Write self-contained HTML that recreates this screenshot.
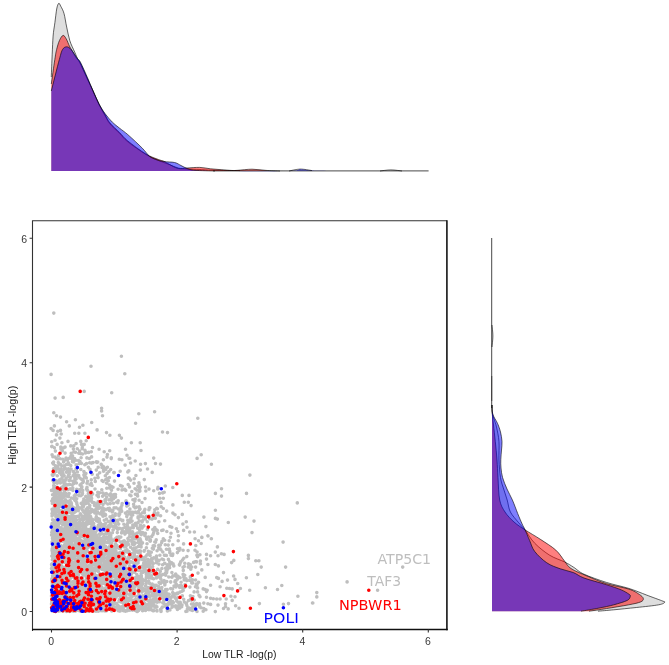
<!DOCTYPE html>
<html><head><meta charset="utf-8"><title>TLR scatter</title>
<style>html,body{margin:0;padding:0;background:#fff}svg{display:block}</style>
</head><body>
<svg width="669" height="665" viewBox="0 0 669 665">
<rect width="669" height="665" fill="#fff"/>
<path d="M51.3 171.0 L51.3 77.0C51.4 73.2 51.9 61.0 52.2 54.2C52.5 47.4 52.7 41.4 53.1 36.1C53.5 30.8 54.3 27.1 54.9 22.6C55.5 18.1 56.1 12.2 56.7 9.0C57.3 5.8 58.0 3.9 58.7 3.4C59.4 2.9 59.9 4.6 60.8 6.3C61.7 8.0 63.0 10.0 64.0 13.5C65.0 17.0 65.7 22.6 66.7 27.1C67.7 31.6 68.5 36.4 69.8 40.6C71.1 44.8 73.4 49.1 74.8 52.3C76.2 55.5 77.1 57.9 77.9 59.6C78.8 61.4 78.4 59.6 79.9 62.8C81.4 66.0 84.9 73.7 87.1 78.5C89.3 83.3 91.1 87.1 93.1 91.5C95.1 95.9 97.2 100.9 99.2 105.0C101.2 109.1 103.4 112.8 105.2 116.0C107.0 119.2 107.6 121.1 110.0 124.0C112.4 126.9 116.6 130.5 119.6 133.5C122.6 136.5 123.5 138.4 127.9 141.9C132.3 145.4 140.8 151.4 145.9 154.5C151.0 157.6 154.5 158.8 158.4 160.5C162.3 162.2 165.9 163.2 169.2 164.5C172.5 165.8 175.2 167.2 178.2 168.0C181.2 168.8 183.4 168.8 187.0 169.0C190.6 169.2 195.7 169.3 200.0 169.5C204.3 169.7 206.3 170.0 213.0 170.2C219.7 170.4 212.2 170.5 240.0 170.6C267.8 170.7 354.8 171.1 380.0 171.0C405.2 170.9 387.3 169.9 391.0 169.9C394.7 169.9 395.8 170.8 402.0 171.0C408.2 171.2 423.7 171.0 428.0 171.0L428 171.0Z" fill="#bebebe" fill-opacity="0.5"/>
<path d="M51.3 77.0C51.4 73.2 51.9 61.0 52.2 54.2C52.5 47.4 52.7 41.4 53.1 36.1C53.5 30.8 54.3 27.1 54.9 22.6C55.5 18.1 56.1 12.2 56.7 9.0C57.3 5.8 58.0 3.9 58.7 3.4C59.4 2.9 59.9 4.6 60.8 6.3C61.7 8.0 63.0 10.0 64.0 13.5C65.0 17.0 65.7 22.6 66.7 27.1C67.7 31.6 68.5 36.4 69.8 40.6C71.1 44.8 73.4 49.1 74.8 52.3C76.2 55.5 77.1 57.9 77.9 59.6C78.8 61.4 78.4 59.6 79.9 62.8C81.4 66.0 84.9 73.7 87.1 78.5C89.3 83.3 91.1 87.1 93.1 91.5C95.1 95.9 97.2 100.9 99.2 105.0C101.2 109.1 103.4 112.8 105.2 116.0C107.0 119.2 107.6 121.1 110.0 124.0C112.4 126.9 116.6 130.5 119.6 133.5C122.6 136.5 123.5 138.4 127.9 141.9C132.3 145.4 140.8 151.4 145.9 154.5C151.0 157.6 154.5 158.8 158.4 160.5C162.3 162.2 165.9 163.2 169.2 164.5C172.5 165.8 175.2 167.2 178.2 168.0C181.2 168.8 183.4 168.8 187.0 169.0C190.6 169.2 195.7 169.3 200.0 169.5C204.3 169.7 206.3 170.0 213.0 170.2C219.7 170.4 235.5 170.5 240.0 170.6M380.0 171.0C381.8 170.8 387.3 169.9 391.0 169.9C394.7 169.9 400.2 170.8 402.0 171.0" fill="none" stroke="#000" stroke-width="0.6" stroke-linejoin="round"/>
<path d="M51.3 171.0 L51.3 84.0C51.9 79.9 53.9 65.3 54.8 59.6C55.7 53.9 55.8 52.8 56.6 49.6C57.4 46.4 58.3 43.0 59.4 40.6C60.5 38.2 61.9 35.7 63.0 35.4C64.2 35.1 65.1 37.0 66.2 38.8C67.3 40.6 68.4 43.9 69.4 46.0C70.5 48.1 71.3 49.4 72.5 51.5C73.7 53.6 75.4 56.7 76.6 58.5C77.8 60.3 78.2 59.2 79.9 62.5C81.7 65.8 84.9 73.2 87.1 78.0C89.3 82.8 91.1 86.6 93.1 91.0C95.1 95.4 97.2 100.5 99.2 104.5C101.2 108.5 103.4 111.9 105.2 115.0C107.0 118.1 107.6 120.1 110.0 123.0C112.4 125.9 116.6 129.5 119.6 132.5C122.6 135.5 123.5 137.4 127.9 141.0C132.3 144.6 140.8 150.9 145.9 154.0C151.0 157.1 155.4 158.3 158.4 159.5C161.4 160.7 162.0 160.4 163.8 161.2C165.6 162.0 166.8 163.1 169.2 164.3C171.6 165.5 175.2 167.9 178.2 168.5C181.2 169.1 183.4 168.2 187.0 168.0C190.6 167.8 195.8 167.3 199.7 167.4C203.6 167.5 206.8 168.4 210.4 168.8C214.0 169.2 217.6 169.4 221.2 169.7C224.8 170.0 229.2 170.4 232.0 170.5C234.8 170.6 234.7 170.5 238.0 170.3C241.3 170.1 247.3 169.2 252.0 169.2C256.7 169.2 261.3 170.1 266.0 170.4C270.7 170.7 253.0 170.9 280.0 171.0C307.0 171.1 403.3 171.0 428.0 171.0L428 171.0Z" fill="#ff0000" fill-opacity="0.5"/>
<path d="M51.3 84.0C51.9 79.9 53.9 65.3 54.8 59.6C55.7 53.9 55.8 52.8 56.6 49.6C57.4 46.4 58.3 43.0 59.4 40.6C60.5 38.2 61.9 35.7 63.0 35.4C64.2 35.1 65.1 37.0 66.2 38.8C67.3 40.6 68.4 43.9 69.4 46.0C70.5 48.1 71.3 49.4 72.5 51.5C73.7 53.6 75.4 56.7 76.6 58.5C77.8 60.3 78.2 59.2 79.9 62.5C81.7 65.8 84.9 73.2 87.1 78.0C89.3 82.8 91.1 86.6 93.1 91.0C95.1 95.4 97.2 100.5 99.2 104.5C101.2 108.5 103.4 111.9 105.2 115.0C107.0 118.1 107.6 120.1 110.0 123.0C112.4 125.9 116.6 129.5 119.6 132.5C122.6 135.5 123.5 137.4 127.9 141.0C132.3 144.6 140.8 150.9 145.9 154.0C151.0 157.1 155.4 158.3 158.4 159.5C161.4 160.7 162.0 160.4 163.8 161.2C165.6 162.0 166.8 163.1 169.2 164.3C171.6 165.5 175.2 167.9 178.2 168.5C181.2 169.1 183.4 168.2 187.0 168.0C190.6 167.8 195.8 167.3 199.7 167.4C203.6 167.5 206.8 168.4 210.4 168.8C214.0 169.2 217.6 169.4 221.2 169.7C224.8 170.0 229.2 170.4 232.0 170.5C234.8 170.6 234.7 170.5 238.0 170.3C241.3 170.1 247.3 169.2 252.0 169.2C256.7 169.2 261.3 170.1 266.0 170.4C270.7 170.7 277.7 170.9 280.0 171.0" fill="none" stroke="#000" stroke-width="0.6" stroke-linejoin="round"/>
<path d="M51.3 171.0 L51.3 91.0C52.6 85.8 57.4 66.5 59.3 59.6C61.2 52.7 61.3 51.7 62.5 49.6C63.7 47.5 65.2 46.8 66.7 46.8C68.2 46.8 69.5 47.7 71.2 49.6C72.9 51.5 75.5 55.9 77.1 58.0C78.6 60.1 78.8 59.0 80.5 62.3C82.2 65.6 85.4 72.9 87.5 77.7C89.6 82.5 91.1 86.5 93.1 90.9C95.0 95.3 97.2 100.4 99.2 104.2C101.2 108.0 103.0 110.8 105.2 113.8C107.4 116.8 110.0 119.8 112.4 122.2C114.8 124.6 117.0 126.1 119.6 128.2C122.2 130.3 124.1 131.4 127.9 134.7C131.7 138.0 138.7 144.6 142.3 148.2C145.9 151.8 147.2 154.4 149.5 156.3C151.8 158.2 153.6 158.6 156.0 159.5C158.4 160.4 160.7 161.1 163.8 161.6C166.9 162.1 171.7 161.8 174.6 162.5C177.5 163.2 178.9 164.5 181.0 165.5C183.1 166.5 184.8 167.7 187.1 168.5C189.4 169.3 190.3 169.9 195.0 170.3C199.7 170.7 199.3 170.9 215.0 171.0C230.7 171.1 274.8 171.3 289.0 171.0C303.2 170.7 296.2 169.2 300.0 169.1C303.8 169.0 307.0 170.3 312.0 170.6C317.0 170.9 310.7 170.9 330.0 171.0C349.3 171.1 411.7 171.0 428.0 171.0L428 171.0Z" fill="#0000ff" fill-opacity="0.5"/>
<path d="M51.3 91.0C52.6 85.8 57.4 66.5 59.3 59.6C61.2 52.7 61.3 51.7 62.5 49.6C63.7 47.5 65.2 46.8 66.7 46.8C68.2 46.8 69.5 47.7 71.2 49.6C72.9 51.5 75.5 55.9 77.1 58.0C78.6 60.1 78.8 59.0 80.5 62.3C82.2 65.6 85.4 72.9 87.5 77.7C89.6 82.5 91.1 86.5 93.1 90.9C95.0 95.3 97.2 100.4 99.2 104.2C101.2 108.0 103.0 110.8 105.2 113.8C107.4 116.8 110.0 119.8 112.4 122.2C114.8 124.6 117.0 126.1 119.6 128.2C122.2 130.3 124.1 131.4 127.9 134.7C131.7 138.0 138.7 144.6 142.3 148.2C145.9 151.8 147.2 154.4 149.5 156.3C151.8 158.2 153.6 158.6 156.0 159.5C158.4 160.4 160.7 161.1 163.8 161.6C166.9 162.1 171.7 161.8 174.6 162.5C177.5 163.2 178.9 164.5 181.0 165.5C183.1 166.5 184.8 167.7 187.1 168.5C189.4 169.3 190.3 169.9 195.0 170.3C199.7 170.7 211.7 170.9 215.0 171.0M289.0 171.0C290.8 170.7 296.2 169.2 300.0 169.1C303.8 169.0 310.0 170.3 312.0 170.6" fill="none" stroke="#000" stroke-width="0.6" stroke-linejoin="round"/>
<path d="M213 170.9H428.6" stroke="#000" stroke-opacity="0.8" stroke-width="0.9"/>
<path d="M492.0 238.0C492.0 248.3 492.0 285.5 492.0 300.0C492.0 314.5 491.9 319.0 492.0 325.0C492.1 331.0 492.9 332.3 492.9 336.0C492.9 339.7 492.1 339.7 492.0 347.0C491.9 354.3 492.0 370.3 492.0 380.0C492.0 389.7 492.0 399.5 492.0 405.0C492.0 410.5 491.9 410.7 492.2 413.0C492.5 415.3 493.3 416.7 494.0 419.0C494.7 421.3 495.7 423.2 496.5 427.0C497.3 430.8 498.6 436.0 499.0 441.5C499.4 447.0 498.8 454.0 499.0 460.0C499.2 466.0 499.7 472.6 500.5 477.6C501.3 482.6 502.9 486.3 504.0 490.0C505.1 493.7 506.1 496.3 507.2 500.0C508.3 503.7 508.5 508.3 510.4 512.0C512.3 515.7 516.0 519.4 518.4 522.4C520.8 525.4 522.3 526.5 525.0 530.0C527.7 533.5 530.7 539.1 534.8 543.3C538.9 547.5 544.8 552.2 549.8 555.3C554.8 558.4 560.7 560.0 564.7 562.0C568.7 564.0 570.5 565.3 573.7 567.3C576.9 569.3 578.5 571.7 584.0 574.2C589.5 576.7 598.9 580.0 606.4 582.4C613.9 584.8 622.1 586.3 628.8 588.4C635.5 590.5 641.2 593.0 646.7 595.1C652.2 597.2 658.7 599.5 661.7 600.7C664.7 601.9 665.2 601.6 664.7 602.3C664.2 603.0 663.4 603.9 658.7 604.8C654.0 605.7 643.8 606.7 636.3 607.5C628.8 608.3 620.2 609.2 613.8 609.8C607.4 610.4 600.6 611.0 598.0 611.2L492.0 611.2Z" fill="#bebebe" fill-opacity="0.5"/>
<path d="M492.0 325.0C492.1 326.8 492.9 332.3 492.9 336.0C492.9 339.7 492.1 345.2 492.0 347.0M492.0 405.0C492.0 406.3 491.9 410.7 492.2 413.0C492.5 415.3 493.3 416.7 494.0 419.0C494.7 421.3 495.7 423.2 496.5 427.0C497.3 430.8 498.6 436.0 499.0 441.5C499.4 447.0 498.8 454.0 499.0 460.0C499.2 466.0 499.7 472.6 500.5 477.6C501.3 482.6 502.9 486.3 504.0 490.0C505.1 493.7 506.1 496.3 507.2 500.0C508.3 503.7 508.5 508.3 510.4 512.0C512.3 515.7 516.0 519.4 518.4 522.4C520.8 525.4 522.3 526.5 525.0 530.0C527.7 533.5 530.7 539.1 534.8 543.3C538.9 547.5 544.8 552.2 549.8 555.3C554.8 558.4 560.7 560.0 564.7 562.0C568.7 564.0 570.5 565.3 573.7 567.3C576.9 569.3 578.5 571.7 584.0 574.2C589.5 576.7 598.9 580.0 606.4 582.4C613.9 584.8 622.1 586.3 628.8 588.4C635.5 590.5 641.2 593.0 646.7 595.1C652.2 597.2 658.7 599.5 661.7 600.7C664.7 601.9 665.2 601.6 664.7 602.3C664.2 603.0 663.4 603.9 658.7 604.8C654.0 605.7 643.8 606.7 636.3 607.5C628.8 608.3 620.2 609.2 613.8 609.8C607.4 610.4 600.6 611.0 598.0 611.2" fill="none" stroke="#000" stroke-width="0.6" stroke-linejoin="round"/>
<path d="M492.0 238.0C492.0 248.3 492.0 276.3 492.0 300.0C492.0 323.7 492.0 362.5 492.0 380.0C492.0 397.5 491.9 399.3 492.0 405.0C492.1 410.7 492.1 411.1 492.3 414.4C492.6 417.7 493.0 420.5 493.5 425.0C494.0 429.5 494.7 435.7 495.3 441.5C495.9 447.3 496.6 454.0 497.0 460.0C497.4 466.0 497.6 470.9 498.0 477.6C498.4 484.3 498.5 494.3 499.7 500.0C500.9 505.7 502.6 508.3 505.0 512.0C507.4 515.7 510.6 519.0 514.0 522.0C517.4 525.0 520.6 527.0 525.1 529.9C529.6 532.8 535.7 536.2 540.8 539.6C545.9 543.0 551.8 546.5 555.8 550.1C559.8 553.7 562.2 558.2 564.7 561.3C567.2 564.4 567.3 566.0 571.0 568.5C574.7 571.0 581.1 573.5 587.0 576.0C592.9 578.5 599.4 581.4 606.4 583.6C613.4 585.8 623.3 587.3 628.8 589.1C634.3 590.9 636.9 592.8 639.3 594.4C641.7 596.0 643.1 597.2 643.3 598.5C643.5 599.8 643.1 600.9 640.7 601.9C638.3 602.9 634.5 603.7 628.8 604.8C623.1 605.9 613.0 607.5 606.4 608.6C599.8 609.7 591.9 610.8 589.0 611.2L492.0 611.2Z" fill="#ff0000" fill-opacity="0.5"/>
<path d="M492.0 405.0C492.1 406.6 492.1 411.1 492.3 414.4C492.6 417.7 493.0 420.5 493.5 425.0C494.0 429.5 494.7 435.7 495.3 441.5C495.9 447.3 496.6 454.0 497.0 460.0C497.4 466.0 497.6 470.9 498.0 477.6C498.4 484.3 498.5 494.3 499.7 500.0C500.9 505.7 502.6 508.3 505.0 512.0C507.4 515.7 510.6 519.0 514.0 522.0C517.4 525.0 520.6 527.0 525.1 529.9C529.6 532.8 535.7 536.2 540.8 539.6C545.9 543.0 551.8 546.5 555.8 550.1C559.8 553.7 562.2 558.2 564.7 561.3C567.2 564.4 567.3 566.0 571.0 568.5C574.7 571.0 581.1 573.5 587.0 576.0C592.9 578.5 599.4 581.4 606.4 583.6C613.4 585.8 623.3 587.3 628.8 589.1C634.3 590.9 636.9 592.8 639.3 594.4C641.7 596.0 643.1 597.2 643.3 598.5C643.5 599.8 643.1 600.9 640.7 601.9C638.3 602.9 634.5 603.7 628.8 604.8C623.1 605.9 613.0 607.5 606.4 608.6C599.8 609.7 591.9 610.8 589.0 611.2" fill="none" stroke="#000" stroke-width="0.6" stroke-linejoin="round"/>
<path d="M492.0 238.0C492.0 248.3 492.0 276.3 492.0 300.0C492.0 323.7 492.0 362.5 492.0 380.0C492.0 397.5 492.0 399.8 492.0 405.0C492.0 410.2 491.9 409.2 492.2 411.0C492.4 412.8 492.9 414.4 493.5 416.0C494.1 417.6 495.2 419.1 496.0 420.5C496.8 421.9 497.2 422.6 498.0 424.5C498.8 426.4 499.8 429.2 500.5 432.0C501.2 434.8 501.8 438.5 502.0 441.5C502.2 444.5 501.7 447.0 501.5 450.0C501.3 453.0 500.9 456.6 500.8 459.6C500.7 462.6 500.7 465.0 501.0 468.0C501.3 471.0 501.6 474.1 502.6 477.6C503.6 481.1 505.4 485.3 507.0 489.0C508.6 492.7 510.6 495.9 512.4 500.0C514.2 504.1 516.1 509.5 517.7 513.5C519.3 517.5 520.9 521.2 522.1 523.9C523.3 526.6 523.9 527.1 525.1 529.9C526.4 532.6 528.0 536.8 529.6 540.4C531.2 544.0 531.9 547.9 534.8 551.6C537.7 555.3 542.5 559.9 546.8 562.8C551.0 565.7 555.9 567.2 560.3 568.8C564.7 570.4 569.2 571.0 573.2 572.5C577.2 574.0 578.5 576.0 584.0 578.0C589.5 580.0 600.2 582.7 606.4 584.7C612.6 586.7 617.6 588.3 621.3 589.9C625.0 591.5 627.3 593.0 628.8 594.1C630.3 595.2 630.5 595.2 630.3 596.3C630.0 597.3 630.0 599.0 627.3 600.4C624.5 601.8 618.5 603.5 613.8 604.8C609.1 606.1 604.4 607.0 598.9 608.1C593.4 609.2 584.0 610.7 581.0 611.2L492.0 611.2Z" fill="#0000ff" fill-opacity="0.5"/>
<path d="M492.0 405.0C492.0 406.0 491.9 409.2 492.2 411.0C492.4 412.8 492.9 414.4 493.5 416.0C494.1 417.6 495.2 419.1 496.0 420.5C496.8 421.9 497.2 422.6 498.0 424.5C498.8 426.4 499.8 429.2 500.5 432.0C501.2 434.8 501.8 438.5 502.0 441.5C502.2 444.5 501.7 447.0 501.5 450.0C501.3 453.0 500.9 456.6 500.8 459.6C500.7 462.6 500.7 465.0 501.0 468.0C501.3 471.0 501.6 474.1 502.6 477.6C503.6 481.1 505.4 485.3 507.0 489.0C508.6 492.7 510.6 495.9 512.4 500.0C514.2 504.1 516.1 509.5 517.7 513.5C519.3 517.5 520.9 521.2 522.1 523.9C523.3 526.6 523.9 527.1 525.1 529.9C526.4 532.6 528.0 536.8 529.6 540.4C531.2 544.0 531.9 547.9 534.8 551.6C537.7 555.3 542.5 559.9 546.8 562.8C551.0 565.7 555.9 567.2 560.3 568.8C564.7 570.4 569.2 571.0 573.2 572.5C577.2 574.0 578.5 576.0 584.0 578.0C589.5 580.0 600.2 582.7 606.4 584.7C612.6 586.7 617.6 588.3 621.3 589.9C625.0 591.5 627.3 593.0 628.8 594.1C630.3 595.2 630.5 595.2 630.3 596.3C630.0 597.3 630.0 599.0 627.3 600.4C624.5 601.8 618.5 603.5 613.8 604.8C609.1 606.1 604.4 607.0 598.9 608.1C593.4 609.2 584.0 610.7 581.0 611.2" fill="none" stroke="#000" stroke-width="0.6" stroke-linejoin="round"/>
<path d="M491.7 238V408" stroke="#000" stroke-opacity="0.8" stroke-width="0.9"/>
<path d="M491.8 376V401" stroke="#000" stroke-opacity="0.5" stroke-width="1"/>
<g fill="none" stroke-linecap="round" stroke-width="3.6">
<path stroke="#bebebe" d="M115.6 544.1h0M169.7 565.0h0M97.5 584.6h0M54.0 584.2h0M94.3 544.1h0M64.2 589.5h0M83.7 542.8h0M137.4 560.7h0M72.1 561.7h0M115.6 525.6h0M79.6 535.3h0M59.6 560.3h0M151.4 575.9h0M58.0 573.8h0M77.7 601.2h0M163.3 498.2h0M99.8 552.2h0M89.8 555.5h0M125.4 513.1h0M124.1 572.5h0M142.6 559.7h0M66.2 594.1h0M105.1 607.7h0M94.8 590.9h0M62.3 561.3h0M178.5 535.8h0M117.0 590.4h0M64.7 607.0h0M58.0 609.2h0M55.8 562.0h0M105.5 515.2h0M59.8 519.1h0M56.0 471.4h0M166.5 594.3h0M60.0 517.0h0M118.5 562.6h0M93.6 604.6h0M121.4 571.4h0M105.5 514.6h0M73.1 608.6h0M130.9 556.2h0M97.4 559.0h0M175.1 598.1h0M79.9 570.6h0M68.9 578.4h0M144.3 479.6h0M72.2 484.9h0M65.2 519.8h0M78.3 538.3h0M132.2 512.8h0M92.2 521.7h0M97.9 575.9h0M58.5 578.4h0M100.0 593.3h0M75.7 531.4h0M60.2 516.3h0M65.7 484.3h0M102.0 480.6h0M161.3 595.5h0M71.0 588.3h0M111.7 606.6h0M140.1 509.0h0M169.3 549.0h0M54.8 564.7h0M170.7 588.6h0M67.3 543.9h0M98.9 538.5h0M93.7 609.8h0M58.8 611.1h0M90.7 587.9h0M126.8 502.9h0M147.0 543.8h0M156.9 606.9h0M67.1 547.9h0M93.8 556.5h0M64.8 533.9h0M94.9 599.1h0M106.4 575.5h0M81.8 572.7h0M112.0 552.8h0M57.0 509.0h0M138.3 592.2h0M55.5 570.2h0M123.4 552.4h0M68.0 532.1h0M79.7 589.5h0M52.2 523.2h0M103.9 558.8h0M108.8 551.9h0M76.6 568.6h0M59.0 553.7h0M118.3 571.4h0M113.0 487.3h0M65.7 599.5h0M130.3 577.6h0M67.1 607.0h0M151.8 558.8h0M60.4 571.9h0M109.2 568.3h0M167.2 569.7h0M104.8 606.0h0M61.0 600.7h0M66.5 528.4h0M88.1 530.0h0M117.9 554.5h0M86.2 577.0h0M86.8 599.7h0M112.3 567.4h0M62.7 559.6h0M97.7 462.1h0M79.3 524.9h0M127.6 603.8h0M122.2 580.2h0M117.8 595.2h0M82.7 490.4h0M58.6 590.8h0M182.1 591.2h0M139.3 545.5h0M108.3 581.1h0M110.8 564.8h0M131.4 582.2h0M120.5 548.7h0M74.2 607.5h0M94.7 583.6h0M94.3 544.8h0M60.5 498.0h0M123.2 579.7h0M94.7 536.6h0M66.5 569.1h0M58.1 539.4h0M103.8 602.9h0M119.4 556.5h0M98.3 525.7h0M56.9 522.9h0M72.9 490.5h0M54.7 596.5h0M53.2 586.2h0M146.0 609.6h0M158.8 548.1h0M63.1 530.4h0M78.2 564.7h0M63.7 546.5h0M55.4 465.8h0M114.7 609.9h0M113.4 495.7h0M126.3 588.8h0M78.4 523.9h0M81.8 560.3h0M54.3 500.0h0M141.7 600.5h0M113.3 598.9h0M150.4 552.2h0M104.1 546.0h0M80.7 596.4h0M57.7 542.8h0M54.7 566.2h0M80.9 519.3h0M134.8 586.0h0M140.1 596.9h0M161.7 542.6h0M157.6 569.3h0M76.9 555.4h0M114.3 494.6h0M83.0 591.1h0M161.1 588.0h0M114.9 564.7h0M64.1 552.6h0M63.7 480.5h0M93.6 564.0h0M62.9 541.0h0M133.6 504.2h0M78.7 475.5h0M115.0 593.3h0M70.1 506.4h0M78.2 550.9h0M104.2 451.7h0M107.4 578.4h0M69.4 523.2h0M64.2 573.6h0M72.6 589.0h0M53.4 550.5h0M62.2 587.3h0M62.2 518.6h0M88.1 503.3h0M125.7 533.0h0M67.6 543.7h0M111.5 608.2h0M103.2 577.3h0M114.1 568.0h0M128.2 600.8h0M169.9 609.9h0M121.2 558.0h0M197.0 604.8h0M94.4 596.7h0M69.4 545.5h0M132.5 537.7h0M125.2 577.7h0M55.2 554.6h0M67.3 606.2h0M78.6 568.7h0M76.7 502.5h0M110.3 564.4h0M113.0 530.0h0M91.8 521.3h0M137.5 609.1h0M101.6 533.6h0M123.6 574.2h0M84.7 545.0h0M197.0 611.5h0M71.3 607.0h0M73.6 483.7h0M166.0 591.4h0M123.6 590.4h0M66.3 578.9h0M118.9 569.7h0M127.3 532.1h0M66.3 510.3h0M129.7 512.3h0M65.7 604.1h0M137.2 557.6h0M91.7 576.0h0M128.9 584.7h0M56.1 467.5h0M73.6 550.0h0M108.6 539.4h0M56.7 571.6h0M86.6 572.8h0M52.1 516.0h0M100.6 587.8h0M122.2 503.6h0M93.7 590.6h0M105.8 594.5h0M106.6 610.8h0M77.2 525.6h0M92.8 576.6h0M150.1 555.4h0M104.1 495.0h0M59.7 603.7h0M54.2 537.6h0M128.0 586.8h0M55.2 607.0h0M56.5 538.8h0M93.4 603.2h0M148.6 537.0h0M114.6 573.9h0M108.1 528.9h0M75.8 521.5h0M66.2 577.3h0M177.4 593.1h0M101.3 544.3h0M58.3 462.5h0M65.0 519.5h0M53.2 532.4h0M121.0 575.7h0M94.9 584.7h0M67.7 603.5h0M124.5 570.9h0M124.6 594.3h0M52.9 605.4h0M114.5 561.6h0M89.0 556.8h0M156.2 585.3h0M111.5 569.5h0M110.9 602.4h0M69.3 574.0h0M145.2 557.0h0M133.6 512.5h0M188.1 550.6h0M62.1 558.1h0M52.7 498.7h0M128.4 503.6h0M151.8 536.4h0M103.9 568.8h0M114.7 540.8h0M107.0 600.6h0M158.7 547.8h0M65.2 586.0h0M55.5 536.8h0M98.5 576.9h0M100.9 559.6h0M187.0 611.3h0M61.0 588.1h0M178.4 517.6h0M85.2 476.3h0M67.6 558.5h0M170.9 603.5h0M101.4 593.1h0M90.6 516.5h0M120.5 607.0h0M55.6 579.0h0M66.3 533.0h0M76.1 555.8h0M89.8 570.5h0M76.3 578.5h0M75.9 540.0h0M95.8 578.0h0M113.2 591.2h0M56.3 564.9h0M65.6 609.5h0M77.4 567.7h0M73.4 573.2h0M131.4 573.7h0M83.5 599.6h0M119.4 601.2h0M153.7 490.8h0M83.3 501.3h0M185.9 611.4h0M114.9 569.1h0M110.3 557.2h0M72.5 459.7h0M56.1 577.8h0M87.7 583.2h0M87.9 593.2h0M65.0 551.0h0M62.1 487.0h0M106.0 594.6h0M110.2 561.2h0M113.1 575.3h0M75.1 531.4h0M92.0 525.1h0M65.6 488.1h0M92.4 572.0h0M69.1 573.7h0M66.9 604.9h0M124.3 576.6h0M71.9 545.3h0M157.0 610.9h0M72.8 529.3h0M64.8 529.1h0M142.0 592.1h0M121.6 532.9h0M101.9 595.8h0M87.8 585.5h0M55.9 528.3h0M115.7 544.0h0M83.8 584.8h0M65.6 544.9h0M60.7 510.8h0M56.8 593.1h0M80.6 559.9h0M66.4 571.4h0M114.6 558.0h0M55.7 544.1h0M55.6 578.0h0M84.2 565.9h0M73.0 525.8h0M88.8 533.2h0M77.3 448.7h0M97.9 568.8h0M88.5 580.3h0M85.8 512.2h0M59.3 534.8h0M109.0 547.2h0M57.9 531.9h0M161.1 611.1h0M65.1 579.5h0M127.4 601.8h0M99.0 595.3h0M90.2 586.1h0M97.5 565.8h0M55.9 593.7h0M64.1 534.2h0M96.8 607.4h0M104.2 563.6h0M81.8 553.5h0M98.4 571.5h0M74.1 574.4h0M62.0 586.8h0M149.0 605.1h0M65.8 587.1h0M91.0 540.3h0M60.9 493.4h0M58.5 532.6h0M57.4 523.7h0M122.5 595.4h0M138.1 516.9h0M108.4 548.2h0M55.0 457.0h0M92.2 474.2h0M75.3 511.8h0M77.5 596.7h0M68.9 532.7h0M109.9 545.9h0M145.4 463.6h0M70.8 608.2h0M123.6 565.9h0M63.2 586.7h0M52.3 584.1h0M96.0 611.3h0M90.4 595.6h0M154.6 545.9h0M100.3 567.9h0M56.3 587.7h0M145.8 491.0h0M136.2 525.6h0M102.4 510.0h0M99.5 524.6h0M82.7 599.4h0M137.0 601.5h0M119.6 514.2h0M132.8 592.5h0M171.0 604.1h0M59.9 597.9h0M110.0 516.7h0M117.2 606.1h0M125.6 593.3h0M63.8 585.2h0M62.5 593.4h0M72.0 516.1h0M70.1 548.7h0M65.4 493.9h0M52.9 603.9h0M54.9 529.1h0M153.3 563.5h0M131.3 572.9h0M129.3 562.9h0M53.3 541.2h0M77.5 595.6h0M70.5 594.9h0M97.3 542.3h0M60.0 540.6h0M165.3 544.8h0M132.2 586.2h0M88.4 515.5h0M142.0 607.4h0M70.4 477.5h0M136.2 551.9h0M60.4 531.8h0M109.7 595.2h0M118.7 524.1h0M52.8 539.2h0M63.0 581.0h0M150.0 596.6h0M117.0 545.5h0M51.9 580.8h0M110.3 552.8h0M111.2 510.2h0M58.9 608.3h0M87.8 560.3h0M59.3 557.7h0M95.0 576.7h0M103.0 504.6h0M122.1 591.9h0M99.7 590.1h0M97.8 558.9h0M99.4 592.8h0M103.5 471.3h0M80.9 567.9h0M92.5 556.7h0M91.2 604.5h0M81.2 592.1h0M189.9 608.4h0M137.6 522.8h0M116.0 545.8h0M87.1 606.7h0M60.6 489.0h0M60.5 577.3h0M141.2 573.6h0M96.6 579.1h0M53.9 482.6h0M79.7 538.6h0M85.9 473.5h0M66.7 563.0h0M54.1 498.4h0M105.9 605.2h0M58.4 500.0h0M52.7 601.7h0M93.9 609.6h0M104.4 582.1h0M166.8 593.6h0M79.7 589.2h0M139.9 531.5h0M72.2 604.9h0M90.7 520.3h0M141.4 544.1h0M72.1 532.6h0M128.7 586.6h0M95.5 575.4h0M59.1 576.0h0M90.4 497.7h0M72.4 523.5h0M132.1 586.9h0M57.0 498.5h0M59.7 479.9h0M161.0 594.6h0M82.5 454.0h0M94.5 587.2h0M71.1 469.1h0M104.5 563.4h0M61.2 516.2h0M55.4 491.8h0M63.6 461.9h0M170.4 537.2h0M126.8 506.1h0M104.8 547.3h0M80.8 469.5h0M114.1 555.6h0M83.4 558.6h0M78.3 567.7h0M164.7 520.8h0M137.9 486.4h0M55.3 573.0h0M102.6 496.2h0M139.5 491.2h0M102.5 560.9h0M121.8 583.0h0M85.9 551.2h0M109.5 588.7h0M108.3 574.7h0M100.1 577.6h0M65.5 502.6h0M84.8 593.6h0M146.8 539.2h0M93.6 543.9h0M121.3 559.5h0M90.5 602.9h0M134.0 535.4h0M67.8 540.1h0M69.0 573.2h0M79.4 609.9h0M80.0 584.0h0M115.3 550.2h0M93.7 602.1h0M125.4 586.6h0M160.9 591.8h0M73.8 607.6h0M76.3 596.2h0M162.0 559.0h0M74.8 585.9h0M65.3 582.5h0M66.6 574.4h0M78.7 516.6h0M123.1 607.5h0M60.5 522.0h0M63.8 539.3h0M70.2 559.1h0M110.5 582.8h0M157.1 550.7h0M64.3 530.9h0M69.1 464.5h0M127.3 573.5h0M128.6 600.7h0M89.7 569.3h0M90.6 529.2h0M117.8 583.5h0M142.5 598.3h0M124.6 546.9h0M82.4 566.5h0M61.4 596.4h0M90.3 600.0h0M86.7 530.7h0M176.3 584.2h0M58.4 573.6h0M83.5 546.4h0M71.6 505.6h0M106.8 549.5h0M54.9 574.9h0M66.8 549.0h0M93.6 569.2h0M70.1 602.3h0M151.3 552.2h0M63.1 561.1h0M62.4 521.6h0M80.9 508.0h0M54.8 610.5h0M105.4 475.8h0M169.8 551.3h0M127.0 455.3h0M54.6 601.4h0M101.5 501.6h0M118.1 607.5h0M119.5 571.5h0M69.6 609.6h0M126.6 578.4h0M70.0 589.4h0M164.9 583.9h0M97.0 539.0h0M73.0 550.0h0M131.1 514.5h0M91.6 534.8h0M84.5 476.7h0M85.5 583.7h0M121.9 602.3h0M83.1 589.1h0M108.2 604.1h0M94.5 581.9h0M79.7 542.7h0M80.9 594.0h0M60.9 516.0h0M83.2 568.0h0M85.8 565.3h0M101.8 587.2h0M115.0 553.2h0M80.8 580.4h0M179.8 548.2h0M61.8 606.8h0M142.1 521.9h0M131.5 569.6h0M54.4 594.1h0M140.5 525.3h0M105.4 567.1h0M115.2 515.4h0M61.3 593.9h0M62.3 609.2h0M109.0 576.4h0M66.6 595.9h0M76.9 531.8h0M54.9 583.4h0M90.1 523.5h0M130.6 557.0h0M61.1 593.4h0M61.5 500.7h0M98.8 590.1h0M81.7 549.2h0M156.8 610.5h0M61.4 572.0h0M157.9 513.0h0M65.7 484.0h0M52.3 515.0h0M96.5 513.4h0M96.4 461.9h0M157.1 593.6h0M115.3 588.9h0M109.7 556.5h0M135.2 566.9h0M117.3 589.2h0M138.3 546.5h0M88.0 512.9h0M86.4 574.0h0M123.3 599.0h0M75.6 583.8h0M99.9 592.3h0M106.7 605.1h0M52.1 509.4h0M105.5 590.5h0M80.4 513.9h0M67.8 507.1h0M120.5 575.5h0M106.0 571.5h0M92.4 589.4h0M65.1 447.1h0M102.3 569.5h0M57.6 561.0h0M68.6 599.9h0M58.7 511.9h0M78.3 567.3h0M76.3 603.5h0M113.0 596.0h0M70.0 551.1h0M93.7 602.2h0M141.8 591.5h0M173.3 606.3h0M99.0 534.3h0M116.9 591.1h0M91.7 528.9h0M113.4 567.3h0M93.0 546.9h0M58.6 581.3h0M104.7 582.9h0M140.8 540.9h0M118.8 585.5h0M68.7 598.2h0M166.8 581.5h0M139.2 506.9h0M113.9 573.8h0M54.2 481.2h0M73.4 558.5h0M65.8 517.9h0M55.7 508.4h0M128.8 470.9h0M114.2 596.6h0M57.0 561.5h0M63.7 529.3h0M56.4 586.6h0M126.2 591.5h0M71.2 592.2h0M109.0 499.9h0M69.8 542.7h0M114.9 545.7h0M58.8 587.4h0M105.7 587.7h0M93.0 586.5h0M138.0 560.1h0M81.4 578.4h0M90.9 579.0h0M107.9 561.8h0M87.0 568.4h0M108.7 567.2h0M163.8 601.1h0M102.7 540.0h0M137.5 536.4h0M120.1 601.7h0M81.7 595.3h0M95.7 591.8h0M80.4 580.9h0M93.0 544.6h0M117.9 528.1h0M81.3 463.4h0M115.4 595.1h0M86.5 610.8h0M84.0 567.3h0M98.8 528.5h0M55.0 535.1h0M130.4 589.0h0M66.9 584.8h0M68.4 596.9h0M88.3 532.1h0M98.6 584.4h0M108.7 541.9h0M53.4 560.3h0M109.8 558.8h0M115.5 497.1h0M107.4 454.5h0M85.4 571.1h0M100.3 594.7h0M118.4 509.0h0M66.8 459.0h0M127.0 515.6h0M125.1 550.7h0M138.6 609.4h0M85.6 526.8h0M87.3 524.3h0M85.5 517.1h0M113.9 601.7h0M134.8 558.7h0M139.0 587.4h0M66.5 515.6h0M80.3 508.0h0M60.7 521.1h0M58.5 593.4h0M141.1 546.9h0M69.7 562.5h0M73.4 590.9h0M80.1 604.0h0M138.5 589.0h0M172.0 607.2h0M73.4 564.0h0M54.9 536.1h0M65.4 587.8h0M105.8 595.5h0M79.6 544.9h0M88.3 493.6h0M80.6 592.4h0M67.6 510.1h0M76.4 578.7h0M89.1 606.6h0M75.2 598.2h0M85.6 584.9h0M57.0 583.1h0M113.2 601.4h0M60.9 449.1h0M87.5 560.7h0M97.1 601.4h0M56.1 600.3h0M63.8 494.9h0M125.2 577.3h0M69.2 558.9h0M60.7 608.6h0M121.9 505.2h0M65.2 569.0h0M113.2 580.7h0M69.7 570.5h0M52.7 559.1h0M71.3 571.1h0M88.0 557.3h0M106.7 572.8h0M95.9 568.2h0M56.7 504.2h0M87.2 490.2h0M53.2 566.9h0M64.5 562.3h0M94.6 563.1h0M99.3 540.6h0M110.8 590.2h0M127.8 471.9h0M70.2 533.5h0M123.2 577.8h0M101.1 525.7h0M67.4 525.1h0M97.1 559.5h0M186.9 605.5h0M161.2 506.7h0M70.9 532.9h0M151.4 609.8h0M115.7 577.3h0M157.4 600.2h0M122.5 558.5h0M100.4 601.5h0M65.3 537.6h0M81.3 570.1h0M53.8 491.3h0M143.7 580.4h0M72.4 570.9h0M65.6 577.6h0M119.0 608.1h0M95.5 561.7h0M82.9 594.0h0M76.1 516.6h0M72.6 553.5h0M92.2 611.0h0M109.5 485.1h0M86.5 463.6h0M64.6 524.4h0M194.1 591.9h0M57.2 597.3h0M137.6 604.6h0M152.1 561.7h0M118.6 548.3h0M119.3 594.1h0M68.4 495.6h0M62.6 506.6h0M83.1 608.5h0M57.0 544.0h0M192.7 607.4h0M88.1 588.8h0M87.0 544.7h0M77.1 476.2h0M81.9 525.5h0M156.1 529.6h0M138.5 552.7h0M130.2 572.6h0M53.6 489.6h0M69.4 608.9h0M119.9 563.5h0M52.0 513.6h0M92.1 502.3h0M149.0 516.1h0M131.6 606.2h0M104.4 530.5h0M137.6 495.9h0M131.3 594.3h0M53.4 576.7h0M104.2 578.2h0M140.1 553.1h0M54.9 509.4h0M126.7 529.5h0M55.4 523.0h0M93.2 533.9h0M132.1 571.8h0M165.7 575.3h0M137.5 533.1h0M157.8 514.9h0M156.1 596.7h0M78.2 490.5h0M90.3 539.8h0M59.8 522.9h0M70.2 578.7h0M75.3 594.4h0M133.7 609.1h0M85.8 540.6h0M96.3 576.6h0M143.9 525.9h0M78.8 544.0h0M52.7 501.6h0M57.0 524.8h0M93.5 600.3h0M179.4 564.8h0M95.3 595.6h0M69.9 608.9h0M133.3 527.8h0M67.4 599.8h0M126.7 542.4h0M88.6 557.8h0M176.4 528.7h0M89.4 607.3h0M65.8 560.4h0M101.0 560.1h0M137.4 611.4h0M79.6 555.6h0M118.3 609.8h0M85.6 585.6h0M122.9 597.7h0M83.7 593.8h0M73.6 548.4h0M55.9 586.3h0M60.3 597.8h0M136.7 512.7h0M94.0 610.8h0M191.7 567.0h0M117.8 539.1h0M77.0 553.4h0M58.0 572.2h0M58.6 602.8h0M134.0 548.1h0M154.8 593.0h0M77.2 563.7h0M127.5 582.5h0M75.4 571.6h0M195.4 609.8h0M106.2 562.8h0M134.4 553.8h0M136.8 574.5h0M53.7 544.6h0M79.2 589.2h0M62.3 532.5h0M86.4 534.1h0M127.1 582.0h0M87.8 531.7h0M86.5 565.9h0M154.8 590.6h0M74.6 608.8h0M106.4 550.1h0M126.1 579.3h0M152.3 548.3h0M114.5 558.0h0M65.2 522.4h0M115.7 579.9h0M72.7 512.9h0M116.7 594.6h0M94.7 594.0h0M97.0 495.3h0M103.9 603.5h0M73.9 584.1h0M151.1 604.7h0M73.2 537.4h0M96.7 545.6h0M124.9 557.4h0M81.4 604.7h0M61.4 534.7h0M82.2 448.8h0M77.1 530.1h0M79.3 588.2h0M139.9 576.4h0M103.6 547.2h0M93.0 510.5h0M90.2 574.4h0M126.0 546.6h0M85.7 564.6h0M111.2 458.6h0M71.5 575.7h0M60.5 547.1h0M110.5 575.6h0M76.2 578.9h0M60.6 503.1h0M77.3 609.2h0M89.1 588.8h0M162.2 581.7h0M135.7 538.8h0M161.8 587.5h0M95.8 567.3h0M155.1 588.8h0M58.2 583.6h0M87.5 490.3h0M116.7 603.5h0M102.5 564.9h0M90.1 484.8h0M102.2 606.5h0M57.5 554.9h0M55.5 582.1h0M101.6 580.1h0M90.2 584.6h0M59.7 581.9h0M127.6 587.3h0M52.2 582.7h0M53.9 487.0h0M66.6 586.5h0M68.1 586.6h0M89.5 573.7h0M94.5 505.5h0M58.7 576.7h0M59.0 593.0h0M98.7 578.6h0M60.5 571.7h0M53.6 488.8h0M108.6 604.1h0M123.7 605.4h0M163.1 582.3h0M121.9 607.0h0M53.4 580.7h0M138.1 563.0h0M152.5 563.5h0M130.1 522.2h0M145.5 487.0h0M142.5 542.9h0M150.2 541.2h0M165.4 604.6h0M63.3 581.1h0M83.1 593.5h0M112.4 518.3h0M65.7 572.6h0M61.7 465.7h0M73.7 563.8h0M53.7 485.6h0M109.4 510.6h0M76.4 596.0h0M164.9 593.4h0M150.3 602.1h0M86.0 509.2h0M99.2 504.2h0M82.8 583.8h0M88.2 611.2h0M76.4 483.0h0M103.0 516.2h0M174.9 581.9h0M135.2 543.1h0M169.2 540.7h0M77.6 582.1h0M75.7 510.2h0M116.0 567.9h0M61.2 495.9h0M68.7 558.6h0M113.0 550.8h0M101.2 601.7h0M164.8 591.2h0M61.2 600.4h0M82.3 598.9h0M84.2 557.0h0M72.2 589.3h0M153.6 518.0h0M171.9 577.2h0M65.8 606.5h0M88.0 529.5h0M154.8 509.7h0M86.9 581.6h0M98.6 561.6h0M139.3 567.6h0M113.2 529.9h0M106.7 550.9h0M92.0 567.1h0M69.5 532.8h0M75.3 537.6h0M52.7 566.6h0M118.3 555.8h0M119.1 564.9h0M78.0 561.4h0M172.6 595.8h0M96.7 556.7h0M71.2 587.5h0M116.1 527.3h0M84.4 552.6h0M143.0 602.9h0M56.1 538.3h0M121.7 511.2h0M98.1 580.8h0M143.2 610.2h0M136.2 558.2h0M77.4 524.1h0M120.1 541.7h0M157.2 602.3h0M107.0 457.1h0M116.0 551.3h0M146.1 583.7h0M126.0 574.9h0M52.0 563.9h0M72.2 602.3h0M97.6 598.7h0M85.3 590.7h0M104.0 468.4h0M59.0 570.7h0M121.9 566.1h0M105.7 469.5h0M62.9 498.1h0M79.6 557.3h0M159.9 555.3h0M68.3 546.6h0M128.4 568.6h0M62.4 568.9h0M182.9 588.4h0M116.4 573.4h0M111.8 557.7h0M64.9 579.5h0M120.4 566.7h0M94.4 548.2h0M62.3 582.1h0M75.3 593.3h0M150.4 541.0h0M74.7 477.0h0M149.3 507.9h0M145.0 498.6h0M68.5 532.4h0M90.7 601.6h0M138.1 517.9h0M70.7 505.7h0M83.8 499.1h0M96.3 577.7h0M109.3 556.3h0M52.7 610.9h0M62.0 562.4h0M52.6 519.8h0M81.8 490.2h0M89.0 572.2h0M145.1 590.7h0M89.9 578.8h0M93.1 602.2h0M171.7 562.9h0M63.7 567.7h0M71.4 554.7h0M110.6 526.2h0M66.9 541.8h0M131.0 495.8h0M119.1 591.6h0M102.2 592.5h0M65.7 597.3h0M76.3 570.3h0M164.4 555.2h0M162.4 593.6h0M53.6 597.3h0M52.8 580.6h0M53.1 588.3h0M77.5 505.9h0M153.6 578.8h0M83.1 599.3h0M98.1 477.6h0M111.3 457.8h0M139.8 582.9h0M79.7 601.9h0M120.4 485.6h0M178.4 607.7h0M108.5 525.8h0M58.1 585.1h0M85.9 607.9h0M59.4 550.7h0M111.4 486.5h0M69.3 533.0h0M64.4 560.5h0M59.6 498.4h0M68.6 591.3h0M64.4 524.9h0M68.7 523.3h0M55.0 582.2h0M89.5 536.7h0M137.6 581.3h0M107.0 594.9h0M109.4 508.4h0M60.1 570.3h0M117.5 571.8h0M54.7 574.4h0M58.1 558.2h0M55.3 550.4h0M75.7 530.1h0M176.4 575.6h0M158.4 586.3h0M134.2 478.8h0M58.5 551.6h0M71.1 507.0h0M155.3 601.7h0M89.8 576.5h0M52.4 593.3h0M61.0 537.1h0M97.3 601.3h0M92.9 579.1h0M153.2 518.1h0M128.3 607.0h0M121.9 586.0h0M68.1 469.9h0M96.1 565.4h0M65.5 535.6h0M59.5 558.9h0M52.6 494.7h0M151.9 560.8h0M118.5 591.0h0M53.4 463.9h0M179.1 585.7h0M128.8 604.3h0M56.5 606.8h0M85.8 591.1h0M119.1 568.8h0M124.2 576.3h0M143.0 557.9h0M105.2 589.4h0M59.3 566.0h0M65.0 545.6h0M147.4 566.7h0M53.8 528.7h0M149.8 577.8h0M116.5 540.7h0M92.4 519.2h0M87.9 497.1h0M140.8 578.8h0M140.7 580.2h0M123.6 606.9h0M177.5 548.7h0M55.6 526.5h0M53.0 582.6h0M135.0 557.9h0M134.4 555.3h0M81.5 489.2h0M68.5 603.0h0M105.9 552.1h0M92.5 571.0h0M107.6 478.6h0M64.6 550.0h0M64.3 553.8h0M99.8 513.7h0M95.5 545.6h0M154.7 598.6h0M103.5 569.1h0M54.4 575.9h0M135.2 461.0h0M198.6 582.3h0M107.7 554.5h0M151.0 606.8h0M63.3 536.1h0M141.9 582.7h0M117.8 502.7h0M58.5 455.5h0M55.5 606.5h0M82.3 587.6h0M66.8 534.7h0M159.0 560.4h0M53.4 539.6h0M117.7 567.9h0M86.7 583.6h0M168.4 594.2h0M54.3 492.1h0M82.8 571.4h0M105.0 606.9h0M180.2 602.3h0M74.8 511.1h0M110.5 550.3h0M88.9 518.1h0M61.6 550.4h0M85.3 513.6h0M86.9 583.4h0M71.3 546.2h0M57.2 549.9h0M71.0 604.6h0M57.0 546.5h0M106.0 606.4h0M93.0 583.5h0M103.1 525.0h0M81.1 523.8h0M85.8 551.1h0M166.8 531.5h0M66.6 546.3h0M93.1 564.6h0M124.8 542.8h0M58.2 588.1h0M156.5 562.8h0M125.0 584.1h0M127.3 543.3h0M54.5 601.3h0M60.2 610.7h0M98.3 525.4h0M68.5 527.0h0M58.4 569.3h0M73.7 597.7h0M145.3 518.9h0M88.7 536.4h0M85.9 599.4h0M169.6 567.8h0M65.8 596.9h0M118.3 610.7h0M92.6 576.3h0M135.8 596.2h0M97.1 610.7h0M183.1 550.2h0M81.4 563.9h0M136.6 605.1h0M121.2 556.0h0M91.2 576.8h0M102.4 600.7h0M95.0 489.0h0M123.2 572.3h0M60.4 534.5h0M74.4 516.6h0M115.8 583.3h0M81.4 584.0h0M63.9 528.7h0M118.2 580.2h0M58.5 543.2h0M88.3 587.2h0M121.3 579.0h0M65.5 530.2h0M70.1 571.5h0M80.0 461.5h0M87.5 551.3h0M90.9 597.4h0M55.7 508.5h0M119.1 564.4h0M56.4 587.8h0M79.7 609.1h0M86.1 529.2h0M190.2 609.7h0M199.0 595.3h0M123.6 564.9h0M114.0 591.7h0M168.4 559.4h0M84.0 588.8h0M123.5 610.7h0M69.3 564.7h0M75.6 552.6h0M95.8 513.2h0M57.8 609.0h0M99.3 522.3h0M58.7 523.0h0M111.3 499.1h0M71.5 458.5h0M91.0 564.7h0M60.5 560.3h0M73.0 607.5h0M175.7 605.8h0M68.1 591.6h0M156.3 560.4h0M66.2 532.6h0M58.9 606.2h0M58.5 526.2h0M58.4 489.4h0M155.5 463.5h0M63.2 549.3h0M66.8 517.2h0M93.7 523.6h0M109.2 578.7h0M103.6 470.2h0M77.1 575.5h0M76.2 570.7h0M86.4 604.3h0M109.3 609.2h0M54.3 543.3h0M83.2 535.0h0M64.3 486.7h0M192.4 579.7h0M149.9 540.7h0M129.7 530.4h0M135.2 534.0h0M53.2 574.9h0M70.6 552.7h0M132.0 600.5h0M120.1 584.6h0M79.8 547.9h0M111.4 599.0h0M92.8 598.6h0M163.6 559.7h0M80.9 523.6h0M90.5 567.2h0M153.8 558.1h0M69.2 551.2h0M153.4 595.5h0M137.2 610.5h0M69.5 484.4h0M76.8 598.8h0M103.8 543.5h0M74.2 597.6h0M157.4 508.7h0M73.3 531.8h0M107.6 554.5h0M78.3 577.7h0M64.2 475.8h0M53.8 576.5h0M118.6 568.5h0M79.1 572.9h0M129.8 594.9h0M116.7 502.1h0M84.8 526.6h0M96.3 577.6h0M101.2 610.6h0M100.9 501.9h0M66.8 558.7h0M95.7 567.5h0M76.5 520.2h0M96.0 517.9h0M129.0 458.2h0M110.7 578.1h0M176.7 601.1h0M70.7 604.1h0M158.0 487.4h0M54.7 549.3h0M127.5 526.9h0M124.8 598.8h0M180.7 561.9h0M78.3 584.8h0M94.6 597.6h0M62.5 558.6h0M125.2 602.3h0M80.3 578.0h0M67.4 523.2h0M57.1 610.9h0M115.9 573.4h0M95.0 591.9h0M156.5 577.9h0M141.8 578.6h0M157.7 488.9h0M103.4 591.0h0M60.2 551.6h0M101.8 544.4h0M61.4 474.8h0M131.0 528.0h0M59.0 586.3h0M134.6 590.2h0M91.6 498.4h0M89.6 507.4h0M70.5 489.1h0M62.9 609.6h0M73.9 452.0h0M179.7 587.5h0M138.2 513.0h0M116.3 568.2h0M93.7 599.5h0M54.2 604.1h0M85.1 607.8h0M105.4 596.3h0M89.6 538.4h0M113.3 516.7h0M143.0 532.8h0M109.2 494.7h0M175.0 514.8h0M70.0 595.8h0M101.3 539.6h0M60.8 557.9h0M54.4 604.2h0M71.6 546.7h0M90.0 609.3h0M57.1 567.2h0M54.4 596.3h0M82.3 447.2h0M87.2 579.8h0M99.5 574.3h0M100.6 533.7h0M94.7 590.6h0M87.0 483.2h0M54.6 486.4h0M68.5 468.8h0M85.2 581.9h0M105.3 475.8h0M81.4 609.4h0M99.0 567.0h0M92.0 534.6h0M102.8 574.9h0M144.5 598.2h0M121.0 511.8h0M71.1 605.7h0M148.0 600.7h0M98.3 611.3h0M75.1 586.5h0M187.5 608.6h0M120.0 511.7h0M107.7 575.4h0M93.3 542.8h0M51.6 564.4h0M128.1 608.8h0M59.4 594.3h0M58.8 488.6h0M95.3 564.9h0M96.7 539.7h0M103.0 554.3h0M75.0 588.7h0M76.0 563.1h0M171.8 527.2h0M113.1 572.6h0M64.6 540.6h0M153.9 573.3h0M160.6 515.7h0M100.6 575.8h0M149.9 507.7h0M55.8 516.6h0M142.9 526.6h0M104.1 589.5h0M92.6 600.8h0M57.0 605.0h0M137.2 601.6h0M60.8 598.2h0M119.0 557.0h0M120.2 471.2h0M116.8 562.6h0M61.4 578.3h0M128.3 582.6h0M93.5 589.3h0M66.0 576.6h0M183.7 577.0h0M75.8 609.0h0M94.3 563.6h0M126.5 545.2h0M100.9 587.9h0M83.8 549.8h0M113.6 574.9h0M82.3 578.2h0M172.1 603.6h0M87.4 548.1h0M82.6 597.0h0M142.0 585.0h0M150.1 561.8h0M72.5 581.8h0M146.8 596.7h0M62.5 574.6h0M57.8 570.6h0M86.6 518.0h0M74.2 590.0h0M54.4 482.5h0M191.4 600.1h0M134.3 542.5h0M55.4 532.3h0M122.9 545.1h0M74.5 458.5h0M140.4 470.1h0M145.7 580.0h0M69.6 555.5h0M74.6 594.7h0M59.6 541.8h0M89.0 584.6h0M123.6 546.6h0M68.6 560.1h0M68.9 505.8h0M83.8 560.2h0M98.7 604.1h0M140.5 540.2h0M129.0 551.6h0M55.2 577.3h0M113.8 603.9h0M72.5 455.7h0M146.4 608.7h0M152.2 584.1h0M86.5 569.6h0M160.5 583.5h0M106.8 583.0h0M66.8 563.8h0M119.8 589.5h0M195.3 606.1h0M61.6 513.2h0M106.5 588.8h0M131.5 512.4h0M143.4 607.3h0M74.3 578.1h0M75.8 566.9h0M69.6 472.1h0M95.2 534.2h0M79.1 541.1h0M125.5 449.3h0M93.9 527.6h0M54.1 583.2h0M77.1 607.5h0M68.6 576.0h0M89.7 462.7h0M84.8 564.3h0M136.3 604.5h0M127.5 587.9h0M141.0 450.5h0M79.4 610.8h0M69.0 480.4h0M52.5 575.7h0M53.3 588.9h0M55.3 558.9h0M165.6 606.4h0M52.4 515.3h0M54.1 471.2h0M139.7 599.5h0M172.5 555.4h0M200.0 596.8h0M199.6 603.8h0M74.5 539.0h0M60.1 568.6h0M77.1 554.8h0M69.3 576.2h0M75.7 494.2h0M76.0 494.7h0M161.8 608.0h0M70.3 540.0h0M82.2 601.1h0M57.4 580.2h0M133.7 582.8h0M110.4 607.9h0M94.9 598.2h0M85.7 561.7h0M119.6 547.6h0M96.6 528.0h0M76.9 599.8h0M186.3 603.7h0M134.6 572.3h0M74.4 567.3h0M94.4 563.7h0M63.6 583.2h0M76.8 555.2h0M91.8 591.9h0M103.4 610.2h0M81.0 581.6h0M64.1 541.0h0M60.5 490.4h0M119.2 611.0h0M199.9 554.7h0M179.8 604.4h0M129.7 533.7h0M57.2 574.4h0M135.6 523.2h0M127.4 607.0h0M85.7 603.5h0M60.1 539.7h0M177.6 593.7h0M92.3 527.5h0M139.7 595.5h0M70.8 445.9h0M98.2 501.6h0M122.2 557.6h0M82.1 507.8h0M149.0 573.1h0M121.5 560.7h0M67.8 609.9h0M102.5 549.3h0M79.6 451.0h0M72.8 569.8h0M77.9 555.5h0M82.4 510.1h0M95.6 601.0h0M76.1 568.2h0M61.8 596.3h0M116.5 539.6h0M163.8 600.7h0M65.9 607.8h0M86.8 534.1h0M114.3 522.5h0M179.9 563.7h0M126.3 601.9h0M94.2 526.4h0M54.7 470.6h0M91.7 540.7h0M68.3 539.5h0M89.9 605.0h0M67.9 484.8h0M84.6 559.9h0M69.1 588.6h0M64.9 595.0h0M84.6 530.4h0M160.4 545.1h0M58.2 575.3h0M83.0 564.9h0M102.8 567.9h0M94.7 564.3h0M140.5 557.3h0M139.3 520.7h0M109.1 585.2h0M52.3 474.8h0M91.0 587.8h0M149.1 592.5h0M74.4 518.0h0M90.1 596.8h0M54.9 526.7h0M120.7 608.5h0M117.3 532.6h0M92.0 550.1h0M133.8 538.9h0M73.6 547.1h0M117.1 563.2h0M52.3 578.5h0M62.8 459.3h0M128.4 529.2h0M80.9 525.6h0M128.7 552.0h0M86.3 477.9h0M168.8 597.3h0M175.8 581.2h0M53.2 607.1h0M101.8 591.6h0M111.0 538.3h0M98.7 567.4h0M66.7 577.8h0M173.8 565.9h0M172.8 487.5h0M104.2 606.8h0M82.8 585.3h0M162.6 564.7h0M130.4 553.3h0M66.4 512.0h0M165.5 573.2h0M145.5 610.4h0M182.5 560.0h0M173.4 602.5h0M103.9 575.9h0M81.3 588.1h0M69.4 501.0h0M101.2 557.4h0M62.5 599.2h0M107.4 467.3h0M66.0 514.7h0M63.6 595.2h0M61.4 517.7h0M100.0 581.8h0M125.0 560.9h0M91.4 472.8h0M66.1 528.7h0M54.2 543.3h0M57.6 508.5h0M70.0 511.9h0M75.5 541.5h0M117.9 553.8h0M100.4 556.0h0M106.8 551.5h0M106.8 570.6h0M85.8 589.0h0M85.9 513.2h0M71.2 453.2h0M77.1 532.9h0M167.1 604.3h0M105.8 479.5h0M56.3 610.5h0M112.1 603.7h0M56.3 458.3h0M89.4 536.2h0M63.0 611.1h0M140.2 606.6h0M80.0 606.7h0M151.5 595.8h0M64.3 552.3h0M102.5 558.6h0M63.5 505.3h0M92.3 526.9h0M193.4 603.9h0M55.4 451.1h0M57.4 548.2h0M103.4 588.9h0M80.6 592.0h0M115.3 541.0h0M76.1 571.8h0M119.3 459.2h0M144.3 600.0h0M106.2 585.0h0M65.9 544.8h0M103.9 539.7h0M109.2 576.9h0M79.5 563.8h0M83.2 597.2h0M92.3 586.4h0M55.5 580.6h0M71.3 582.0h0M120.4 584.3h0M130.0 593.5h0M186.8 556.6h0M152.7 610.6h0M64.7 541.1h0M66.8 501.4h0M67.6 577.4h0M119.2 562.4h0M84.0 560.1h0M84.8 464.8h0M78.1 565.8h0M156.4 530.1h0M82.2 579.4h0M105.6 566.7h0M162.6 574.6h0M81.1 611.3h0M90.6 600.0h0M71.6 530.6h0M82.0 571.1h0M113.1 593.4h0M100.3 597.1h0M136.3 605.2h0M104.6 594.4h0M88.3 556.2h0M62.1 609.9h0M175.2 580.8h0M68.7 608.8h0M190.3 576.9h0M102.4 575.4h0M87.0 588.6h0M161.9 568.5h0M156.9 577.2h0M54.7 520.9h0M58.1 523.1h0M76.3 603.7h0M91.3 451.7h0M101.5 576.3h0M106.6 581.6h0M177.7 531.5h0M94.6 538.7h0M126.0 587.9h0M134.9 587.3h0M88.7 541.3h0M55.9 515.2h0M96.1 567.1h0M57.5 554.6h0M51.5 490.4h0M64.1 572.7h0M59.0 570.1h0M73.8 445.8h0M81.1 457.8h0M133.8 600.2h0M57.6 605.8h0M119.1 606.8h0M75.1 519.2h0M125.5 611.3h0M170.7 581.9h0M92.8 502.4h0M76.2 478.9h0M114.4 591.4h0M99.6 596.7h0M125.3 576.2h0M142.0 502.5h0M54.8 520.4h0M127.1 578.0h0M80.3 606.7h0M81.1 547.0h0M182.0 605.0h0M80.6 453.6h0M116.1 554.2h0M59.9 586.0h0M56.3 600.6h0M64.6 529.8h0M66.8 561.1h0M59.3 530.6h0M141.0 583.8h0M55.8 534.5h0M129.7 610.2h0M51.7 601.9h0M52.9 583.3h0M126.1 500.9h0M126.1 568.2h0M95.7 551.3h0M81.5 540.9h0M110.3 558.7h0M114.1 507.8h0M129.3 567.2h0M68.3 570.1h0M53.1 572.3h0M115.7 575.6h0M136.9 609.9h0M128.7 556.9h0M104.9 515.1h0M66.7 591.9h0M132.7 591.1h0M102.1 606.2h0M77.2 576.0h0M100.4 513.2h0M57.0 577.7h0M88.4 516.7h0M76.9 588.4h0M126.6 586.6h0M151.0 586.7h0M103.0 548.0h0M148.0 563.1h0M90.4 523.1h0M76.9 603.0h0M180.2 603.1h0M125.6 571.0h0M100.1 593.3h0M96.4 520.7h0M61.9 566.4h0M72.8 528.3h0M107.1 473.4h0M96.5 594.2h0M101.3 546.6h0M59.7 602.4h0M111.9 577.3h0M122.9 551.9h0M71.0 536.4h0M57.1 602.3h0M165.3 486.0h0M112.3 589.0h0M68.0 567.9h0M57.3 565.6h0M102.0 605.3h0M156.5 558.2h0M68.3 583.0h0M79.1 600.9h0M150.8 559.7h0M119.0 600.9h0M84.2 601.6h0M117.6 521.4h0M66.3 585.9h0M73.3 589.0h0M111.0 604.9h0M75.8 583.8h0M56.0 497.4h0M68.7 579.0h0M136.9 533.5h0M103.1 481.4h0M91.5 588.6h0M132.3 544.1h0M75.1 602.4h0M110.8 496.3h0M58.1 543.0h0M145.4 607.4h0M124.2 559.0h0M166.1 571.1h0M62.3 599.7h0M56.4 598.9h0M57.4 582.8h0M150.7 569.1h0M106.2 542.0h0M159.4 574.1h0M101.2 464.4h0M122.1 562.6h0M121.9 459.8h0M87.8 578.6h0M129.4 536.5h0M151.7 592.1h0M196.9 555.3h0M89.5 544.2h0M102.7 507.7h0M118.9 567.2h0M81.2 588.8h0M71.4 503.6h0M122.3 574.0h0M81.0 600.7h0M94.3 535.7h0M95.8 590.0h0M117.7 591.7h0M97.0 610.9h0M109.0 598.3h0M88.8 539.9h0M124.3 585.3h0M157.2 530.3h0M122.4 572.0h0M91.3 479.8h0M113.8 572.6h0M55.7 597.4h0M136.0 581.0h0M90.2 522.5h0M140.1 538.8h0M109.2 569.6h0M132.2 596.4h0M56.7 598.4h0M63.1 481.9h0M62.0 519.1h0M132.9 587.2h0M149.8 518.7h0M60.5 596.8h0M63.6 584.2h0M97.9 557.7h0M58.2 563.5h0M152.7 578.5h0M76.7 489.3h0M103.9 591.0h0M118.9 515.6h0M125.8 594.9h0M112.4 593.0h0M73.5 498.6h0M107.5 575.0h0M98.6 505.4h0M199.8 606.4h0M67.8 489.7h0M63.2 480.3h0M139.6 530.2h0M163.1 530.1h0M56.4 578.4h0M122.1 531.5h0M87.9 604.0h0M91.9 524.0h0M91.8 556.7h0M105.9 597.4h0M75.6 607.9h0M60.2 537.9h0M88.4 467.3h0M155.5 542.2h0M84.6 546.8h0M62.3 548.5h0M125.6 595.9h0M133.1 582.6h0M54.6 602.3h0M138.2 522.6h0M77.1 547.2h0M101.1 595.4h0M113.9 583.2h0M60.3 506.0h0M60.4 483.0h0M106.4 572.8h0M102.9 573.7h0M166.4 555.5h0M83.3 574.7h0M133.2 538.6h0M140.3 576.9h0M79.8 585.7h0M110.3 585.5h0M56.9 565.7h0M59.1 559.1h0M143.6 563.3h0M58.9 575.8h0M64.3 469.3h0M64.9 598.8h0M83.4 575.0h0M127.2 525.1h0M97.8 518.5h0M118.4 575.2h0M59.0 498.2h0M90.3 511.3h0M146.6 608.8h0M102.3 541.6h0M137.2 569.6h0M76.0 543.5h0M80.5 611.3h0M93.4 539.4h0M134.6 543.9h0M130.8 519.8h0M109.5 488.0h0M141.2 603.0h0M75.5 593.9h0M105.0 572.4h0M113.8 472.6h0M80.3 558.1h0M107.8 565.3h0M53.0 575.4h0M98.2 592.7h0M54.3 566.0h0M66.5 562.8h0M103.5 524.6h0M80.6 565.2h0M122.4 583.7h0M81.2 503.4h0M105.3 501.6h0M74.9 478.7h0M71.1 571.0h0M124.3 599.0h0M66.4 563.3h0M115.7 524.6h0M124.9 534.1h0M66.2 605.3h0M89.1 575.1h0M67.0 583.1h0M181.1 582.2h0M83.0 479.4h0M59.8 585.6h0M67.6 554.0h0M66.4 582.5h0M97.3 610.4h0M105.6 591.6h0M135.3 600.4h0M123.4 600.4h0M123.9 560.9h0M70.3 569.3h0M51.8 501.0h0M145.0 604.3h0M154.4 512.5h0M174.7 597.1h0M62.9 497.4h0M57.4 490.7h0M169.2 594.4h0M54.0 473.9h0M99.9 535.0h0M138.1 512.0h0M98.0 557.2h0M129.5 566.2h0M122.8 602.3h0M150.8 552.0h0M135.7 569.5h0M62.2 596.6h0M73.0 481.2h0M89.3 546.5h0M65.1 546.5h0M183.2 590.4h0M176.4 594.0h0M123.9 609.9h0M149.8 607.3h0M164.7 581.1h0M124.1 600.8h0M65.8 584.8h0M95.3 570.9h0M159.1 582.6h0M54.0 587.4h0M102.8 543.3h0M93.5 531.9h0M58.9 520.2h0M59.9 493.2h0M105.4 573.0h0M57.1 603.9h0M95.0 590.8h0M112.3 600.9h0M111.5 518.7h0M119.9 589.3h0M82.0 558.7h0M115.3 589.6h0M54.0 486.2h0M121.6 583.1h0M55.3 513.8h0M140.6 464.3h0M113.0 521.7h0M83.5 505.2h0M77.4 585.0h0M99.6 542.9h0M173.3 595.5h0M91.4 558.1h0M104.2 508.9h0M83.2 532.0h0M145.6 586.1h0M78.3 510.8h0M149.1 574.9h0M92.9 525.6h0M54.3 565.3h0M129.7 557.8h0M160.9 549.8h0M134.6 578.6h0M82.5 553.4h0M65.8 550.5h0M59.4 606.8h0M176.8 576.7h0M65.0 535.2h0M103.0 493.1h0M115.5 520.9h0M132.9 499.8h0M78.9 495.6h0M70.2 530.7h0M65.1 453.1h0M90.2 558.6h0M93.6 550.8h0M88.3 541.3h0M66.8 514.1h0M92.8 574.0h0M85.8 593.9h0M90.4 574.8h0M55.5 571.6h0M106.7 601.3h0M106.5 561.1h0M77.3 593.4h0M107.7 564.6h0M124.9 573.5h0M118.9 536.7h0M80.8 495.7h0M111.9 597.0h0M175.7 574.0h0M63.5 588.6h0M85.2 557.9h0M87.2 546.5h0M106.4 582.8h0M158.3 599.7h0M77.8 574.2h0M138.8 597.9h0M87.6 600.1h0M86.7 606.4h0M100.4 554.7h0M83.1 549.0h0M89.1 586.5h0M58.5 504.8h0M55.9 512.4h0M112.6 548.7h0M153.7 458.1h0M127.5 511.7h0M58.4 523.2h0M117.8 520.2h0M76.1 510.1h0M76.9 586.4h0M91.5 527.1h0M85.0 590.7h0M138.2 568.3h0M118.8 514.0h0M104.6 583.5h0M146.6 538.9h0M63.1 580.7h0M74.9 599.2h0M72.4 461.7h0M130.1 587.2h0M68.4 575.9h0M65.0 576.7h0M79.9 519.7h0M80.8 532.9h0M55.4 500.8h0M60.8 564.5h0M61.8 532.1h0M158.6 594.7h0M179.1 550.5h0M123.0 570.7h0M108.0 528.1h0M165.6 568.3h0M90.7 599.3h0M116.3 539.5h0M77.6 576.6h0M166.4 549.3h0M89.9 534.7h0M92.9 541.9h0M73.2 475.6h0M74.7 604.9h0M159.5 594.7h0M66.9 565.0h0M117.1 595.0h0M132.1 533.6h0M88.6 521.7h0M52.4 594.7h0M144.8 589.5h0M102.0 582.1h0M76.5 591.9h0M66.0 586.9h0M99.3 525.8h0M56.5 500.4h0M51.8 565.5h0M71.5 553.8h0M146.4 547.7h0M83.5 595.2h0M116.1 507.7h0M143.3 572.2h0M135.2 499.1h0M75.6 551.6h0M138.4 540.0h0M63.7 536.5h0M137.5 560.0h0M62.6 576.1h0M56.1 590.2h0M73.3 521.9h0M71.2 498.0h0M127.6 586.0h0M81.2 559.6h0M79.5 559.4h0M70.8 512.4h0M74.7 523.5h0M62.6 599.6h0M108.1 528.4h0M67.8 542.3h0M58.7 533.0h0M83.6 575.1h0M78.7 525.2h0M164.0 599.1h0M87.1 538.9h0M184.2 579.9h0M115.3 513.7h0M64.8 493.4h0M63.9 602.1h0M172.8 554.0h0M73.0 517.0h0M162.8 595.9h0M79.7 566.0h0M69.9 604.1h0M55.5 494.7h0M87.6 500.9h0M81.1 581.0h0M126.8 551.0h0M116.5 586.1h0M101.1 552.9h0M72.4 563.0h0M130.3 587.4h0M66.5 582.6h0M52.7 480.2h0M127.0 560.7h0M58.5 481.1h0M61.9 510.9h0M62.3 553.9h0M123.0 553.2h0M86.1 452.4h0M61.1 527.9h0M158.4 589.5h0M110.9 587.3h0M56.7 606.1h0M85.6 558.2h0M108.5 554.5h0M113.2 526.4h0M63.5 584.0h0M111.7 611.0h0M134.0 551.2h0M73.2 600.5h0M120.1 589.7h0M97.9 541.3h0M78.9 570.0h0M91.1 498.4h0M95.0 564.8h0M55.7 563.2h0M59.7 553.9h0M90.7 537.0h0M75.7 588.7h0M53.3 599.1h0M114.8 519.8h0M82.3 555.8h0M72.3 532.1h0M140.5 551.1h0M82.5 532.9h0M60.3 578.4h0M86.0 519.0h0M54.1 535.4h0M86.2 566.4h0M127.9 538.6h0M67.7 555.6h0M132.7 549.3h0M147.5 574.8h0M92.1 536.9h0M112.5 566.5h0M139.9 491.1h0M87.1 489.5h0M191.5 604.0h0M95.8 551.6h0M67.4 509.1h0M83.7 548.5h0M123.2 566.5h0M59.8 523.3h0M154.3 528.4h0M59.1 558.0h0M96.5 602.6h0M52.1 550.3h0M82.1 589.9h0M73.6 604.1h0M120.9 599.1h0M118.1 589.6h0M55.1 550.3h0M69.1 518.9h0M70.3 529.4h0M88.7 594.0h0M104.0 542.3h0M53.9 543.4h0M113.4 520.1h0M87.7 598.6h0M85.2 527.9h0M116.5 606.9h0M72.1 600.5h0M63.9 483.0h0M63.9 587.4h0M54.9 523.4h0M142.1 566.3h0M124.7 489.4h0M55.2 555.2h0M65.5 596.1h0M142.8 588.2h0M56.0 480.8h0M87.2 500.1h0M70.8 545.3h0M52.5 609.6h0M135.7 577.6h0M57.0 555.9h0M154.8 542.0h0M91.8 509.6h0M101.0 590.9h0M92.3 585.5h0M138.5 570.5h0M67.4 460.1h0M66.8 559.9h0M154.1 515.4h0M83.6 607.1h0M65.4 603.9h0M110.7 493.8h0M132.2 602.0h0M81.4 572.1h0M96.9 549.3h0M105.6 538.8h0M82.1 596.3h0M80.6 534.5h0M76.6 544.9h0M137.7 600.9h0M65.6 536.9h0M82.3 580.7h0M53.5 596.9h0M114.7 586.1h0M94.3 502.7h0M73.4 471.6h0M59.8 592.3h0M90.5 555.4h0M92.5 447.5h0M150.2 575.9h0M89.2 608.4h0M155.7 598.1h0M138.4 540.1h0M97.3 551.0h0M152.6 566.6h0M51.8 579.1h0M63.7 597.9h0M88.7 567.5h0M116.4 559.5h0M110.2 598.4h0M56.5 509.5h0M88.8 575.8h0M147.7 590.5h0M57.0 594.3h0M63.9 588.8h0M113.4 548.3h0M61.2 487.7h0M85.5 452.9h0M112.6 560.3h0M55.8 609.7h0M101.7 526.7h0M133.8 557.2h0M75.0 518.3h0M84.9 556.4h0M100.7 540.7h0M82.7 573.3h0M64.4 588.1h0M110.9 601.7h0M103.9 515.8h0M109.4 547.0h0M138.9 598.6h0M64.5 519.6h0M78.0 595.5h0M71.1 522.9h0M62.5 577.4h0M66.0 522.5h0M108.9 532.1h0M154.5 585.3h0M157.7 533.4h0M87.2 579.9h0M109.1 604.4h0M53.4 525.5h0M61.5 552.7h0M126.3 610.7h0M63.6 532.4h0M138.4 551.3h0M92.6 502.5h0M74.0 474.4h0M61.7 500.6h0M63.1 473.9h0M88.1 586.4h0M127.4 559.8h0M64.6 517.0h0M131.2 579.3h0M74.3 568.3h0M144.6 565.3h0M95.9 558.1h0M125.4 605.9h0M113.8 571.2h0M125.6 579.4h0M69.2 595.9h0M146.2 582.3h0M65.3 480.4h0M69.5 584.8h0M79.7 607.5h0M106.8 483.3h0M90.9 531.0h0M58.5 507.6h0M97.4 581.2h0M74.8 597.7h0M172.9 513.1h0M83.4 600.4h0M56.6 535.5h0M186.0 578.8h0M51.5 568.6h0M92.6 576.7h0M82.6 516.4h0M64.3 603.2h0M190.8 569.3h0M124.2 540.7h0M119.9 577.0h0M69.2 474.5h0M139.4 597.7h0M79.8 580.5h0M104.5 548.8h0M124.9 581.7h0M91.6 456.9h0M68.4 509.7h0M86.8 576.7h0M103.2 594.6h0M118.3 529.1h0M96.1 600.2h0M153.7 589.3h0M134.0 483.3h0M184.3 602.0h0M105.7 566.2h0M139.3 609.5h0M55.7 526.3h0M164.8 585.0h0M92.5 599.8h0M148.2 562.1h0M149.3 603.0h0M122.8 578.6h0M58.2 539.1h0M120.2 611.0h0M133.9 590.0h0M105.2 537.8h0M88.2 541.8h0M106.9 563.6h0M83.2 566.7h0M66.9 542.6h0M137.1 559.0h0M108.3 480.8h0M93.4 543.8h0M99.7 472.7h0M69.5 512.3h0M72.4 519.1h0M119.6 528.3h0M86.4 543.4h0M78.6 599.8h0M122.2 596.4h0M103.2 610.4h0M78.7 553.9h0M112.7 588.3h0M153.3 610.0h0M123.8 554.3h0M107.5 605.7h0M120.6 578.3h0M131.3 594.0h0M109.8 552.1h0M179.6 602.4h0M83.0 522.8h0M164.7 540.2h0M57.2 483.2h0M134.0 564.1h0M51.9 586.3h0M134.4 565.5h0M142.9 607.7h0M131.3 597.0h0M132.9 603.7h0M74.6 547.5h0M77.3 550.6h0M63.8 550.8h0M70.0 512.5h0M68.3 462.7h0M101.7 552.1h0M75.5 537.7h0M56.7 548.0h0M57.5 511.6h0M156.1 606.0h0M76.0 460.2h0M190.4 595.8h0M96.4 535.9h0M88.2 560.5h0M63.2 502.5h0M52.4 606.8h0M63.5 503.7h0M89.3 536.5h0M161.7 530.5h0M110.4 523.6h0M153.1 610.8h0M84.0 541.2h0M52.8 598.4h0M69.4 527.5h0M153.6 594.6h0M114.7 576.9h0M84.0 604.0h0M84.5 523.2h0M144.9 509.4h0M100.0 601.5h0M56.8 557.5h0M72.1 573.7h0M114.5 598.7h0M129.5 486.9h0M54.9 605.8h0M68.3 560.8h0M57.8 544.0h0M83.4 506.6h0M62.6 541.1h0M106.4 557.9h0M60.3 560.4h0M54.7 591.0h0M146.3 567.0h0M83.4 566.1h0M85.9 572.5h0M77.7 598.8h0M83.0 593.7h0M75.4 592.0h0M76.7 498.7h0M121.9 529.2h0M99.7 547.2h0M84.7 590.8h0M144.2 511.0h0M126.8 579.4h0M53.2 578.1h0M86.2 567.9h0M69.3 571.9h0M123.9 524.3h0M94.6 592.6h0M111.8 559.2h0M96.3 576.3h0M99.1 596.9h0M74.4 554.8h0M91.7 557.6h0M144.1 551.3h0M107.5 578.8h0M96.6 585.8h0M117.9 605.4h0M86.7 592.1h0M82.5 554.2h0M70.8 556.9h0M68.5 502.6h0M117.4 571.4h0M86.2 605.2h0M88.8 539.5h0M119.8 571.7h0M127.9 527.1h0M126.6 593.9h0M62.3 567.5h0M59.8 581.6h0M89.5 599.9h0M196.2 584.1h0M68.3 604.7h0M122.7 606.3h0M74.5 521.8h0M67.2 471.8h0M103.1 592.8h0M66.5 611.5h0M114.5 602.9h0M63.5 571.8h0M71.3 550.3h0M158.8 545.3h0M65.2 515.9h0M54.2 597.7h0M87.6 481.3h0M65.2 538.0h0M75.4 518.6h0M54.6 532.2h0M73.5 607.2h0M52.1 550.8h0M57.0 577.1h0M68.0 555.0h0M104.7 597.1h0M95.8 582.8h0M129.5 571.8h0M128.7 582.9h0M103.6 466.8h0M175.8 598.1h0M91.4 492.1h0M134.7 610.2h0M74.2 609.3h0M141.3 575.7h0M85.6 591.0h0M129.4 577.9h0M136.3 535.0h0M68.2 536.5h0M86.1 579.8h0M85.1 608.9h0M82.5 572.3h0M85.2 562.6h0M164.5 599.9h0M102.4 541.3h0M101.7 583.7h0M63.6 591.7h0M167.6 564.7h0M76.4 589.0h0M133.1 567.4h0M76.0 469.1h0M125.1 465.1h0M69.5 501.1h0M95.6 532.2h0M92.6 493.9h0M67.0 596.2h0M79.2 526.3h0M147.9 554.3h0M84.3 543.0h0M76.5 540.5h0M146.2 597.0h0M179.6 565.1h0M108.1 573.1h0M54.8 601.0h0M110.3 503.6h0M78.1 565.5h0M180.5 585.5h0M118.6 539.4h0M52.5 594.6h0M162.9 603.0h0M70.0 537.7h0M85.1 565.9h0M82.3 582.4h0M81.2 479.1h0M55.4 510.6h0M60.3 570.9h0M114.6 597.2h0M140.6 514.3h0M62.0 477.9h0M67.9 541.1h0M75.5 452.3h0M195.6 567.1h0M62.6 547.9h0M60.5 547.3h0M65.8 493.3h0M122.9 600.9h0M112.2 512.0h0M183.3 570.4h0M73.5 600.7h0M76.2 590.5h0M105.5 575.2h0M144.8 535.6h0M71.6 585.9h0M78.0 516.3h0M58.4 501.7h0M109.2 536.1h0M78.4 546.1h0M73.6 589.5h0M71.0 587.9h0M77.4 559.0h0M85.8 552.0h0M108.0 478.3h0M84.1 523.8h0M131.0 586.9h0M139.1 500.2h0M157.3 600.9h0M76.1 539.5h0M58.1 488.4h0M137.9 591.6h0M56.0 546.5h0M94.6 581.2h0M92.6 536.9h0M125.6 590.2h0M108.1 521.4h0M198.0 573.1h0M92.6 568.8h0M58.5 517.0h0M147.7 559.3h0M146.9 604.7h0M53.4 595.0h0M143.0 558.2h0M188.5 563.9h0M137.3 610.1h0M54.7 586.7h0M55.6 607.2h0M101.2 587.7h0M139.5 606.6h0M91.2 495.9h0M64.6 581.6h0M119.8 595.4h0M83.1 595.5h0M74.2 609.5h0M107.8 560.3h0M115.2 538.7h0M114.1 562.8h0M65.5 526.7h0M125.9 551.4h0M65.8 527.3h0M135.9 475.5h0M125.0 570.0h0M62.1 575.5h0M77.6 549.2h0M97.4 578.3h0M97.4 511.9h0M103.5 525.3h0M139.2 484.9h0M54.1 512.3h0M56.4 567.8h0M68.0 593.6h0M57.9 595.8h0M98.8 545.7h0M134.1 524.7h0M192.4 610.5h0M67.8 610.5h0M56.5 523.6h0M180.1 577.8h0M72.9 562.6h0M107.5 583.3h0M97.2 594.4h0M59.2 595.2h0M144.9 590.3h0M94.8 553.4h0M101.4 567.0h0M107.3 593.4h0M120.0 557.1h0M75.5 529.4h0M80.8 601.2h0M51.8 524.8h0M59.5 472.6h0M103.3 560.4h0M132.9 588.3h0M53.5 566.5h0M119.7 576.1h0M62.6 475.8h0M63.5 576.9h0M54.8 577.1h0M95.9 584.6h0M61.6 472.1h0M92.1 586.2h0M126.1 560.1h0M169.8 552.8h0M107.9 556.2h0M162.4 607.0h0M86.8 576.3h0M128.6 585.7h0M158.9 588.3h0M144.4 512.7h0M80.8 591.4h0M171.2 597.6h0M132.6 536.4h0M166.7 511.1h0M63.2 576.0h0M166.6 572.7h0M93.8 604.7h0M71.0 505.2h0M153.0 534.5h0M114.1 496.9h0M70.3 587.7h0M161.4 591.9h0M88.0 567.6h0M82.1 555.1h0M97.6 562.0h0M183.7 599.2h0M189.9 587.1h0M127.2 610.7h0M127.8 578.0h0M136.5 562.6h0M55.0 561.2h0M54.6 543.4h0M60.8 533.7h0M110.8 533.7h0M61.2 471.5h0M146.7 573.3h0M97.5 475.0h0M99.8 534.0h0M124.8 603.3h0M75.3 602.5h0M55.8 534.6h0M119.5 581.2h0M60.5 561.1h0M155.3 571.8h0M99.6 608.3h0M79.4 489.7h0M72.2 511.7h0M142.3 532.5h0M171.9 572.5h0M83.9 474.9h0M156.5 556.1h0M101.6 604.6h0M65.4 518.9h0M79.3 492.3h0M79.7 519.3h0M97.6 503.7h0M94.9 478.3h0M58.5 584.4h0M59.7 533.2h0M93.1 595.1h0M89.7 533.2h0M55.3 569.5h0M63.1 555.5h0M116.2 567.8h0M53.2 490.0h0M79.6 557.3h0M99.1 564.9h0M88.7 452.4h0M127.6 598.3h0M52.5 538.2h0M81.3 518.9h0M174.3 593.9h0M120.1 565.8h0M96.4 550.3h0M79.4 529.8h0M104.6 554.0h0M86.9 575.2h0M73.5 509.4h0M68.0 476.6h0M108.9 471.5h0M67.9 599.9h0M62.6 572.3h0M149.6 562.6h0M67.4 590.3h0M97.8 492.2h0M52.1 454.8h0M160.3 571.4h0M59.9 542.0h0M61.1 586.4h0M191.8 583.0h0M136.6 507.1h0M70.3 588.7h0M77.9 573.3h0M118.1 556.3h0M55.4 553.3h0M111.5 490.3h0M71.5 606.2h0M76.5 609.0h0M127.8 520.4h0M125.5 578.0h0M91.7 534.5h0M164.0 580.6h0M62.2 567.3h0M100.8 585.6h0M104.8 514.0h0M109.0 566.0h0M70.3 509.4h0M111.1 595.2h0M60.5 537.8h0M163.3 508.5h0M127.4 581.4h0M89.4 540.8h0M135.1 488.8h0M149.5 565.4h0M102.2 552.5h0M69.0 549.4h0M94.5 580.8h0M76.0 606.3h0M77.3 516.7h0M117.0 581.7h0M92.0 551.7h0M96.1 567.2h0M173.8 596.1h0M96.2 586.3h0M62.3 450.8h0M159.7 601.8h0M127.3 610.8h0M62.2 584.7h0M123.8 585.6h0M91.4 609.1h0M94.4 579.8h0M152.9 571.9h0M135.5 512.0h0M101.0 538.6h0M68.2 595.0h0M56.5 506.4h0M137.9 580.0h0M125.7 561.4h0M75.9 599.6h0M111.3 599.3h0M100.0 598.9h0M63.1 551.7h0M68.8 525.5h0M101.8 489.7h0M101.6 511.6h0M56.7 532.6h0M130.2 566.4h0M81.6 581.9h0M55.9 611.4h0M116.8 608.8h0M84.0 502.7h0M56.5 590.2h0M99.1 604.3h0M196.6 603.5h0M75.4 590.9h0M69.9 589.0h0M53.4 553.3h0M105.7 608.7h0M64.8 610.5h0M120.8 537.1h0M64.6 608.4h0M126.8 516.6h0M64.4 595.9h0M56.3 525.7h0M70.5 547.8h0M65.5 595.4h0M69.1 575.9h0M71.1 592.5h0M82.7 581.8h0M138.6 610.5h0M75.2 598.8h0M55.9 469.4h0M54.2 596.5h0M125.4 532.2h0M114.4 563.9h0M65.8 487.6h0M75.5 541.3h0M85.5 503.7h0M136.7 605.7h0M91.9 511.6h0M104.7 537.3h0M122.6 589.1h0M105.0 602.6h0M71.2 516.9h0M107.4 560.7h0M94.7 547.3h0M58.6 494.5h0M135.7 599.2h0M130.3 519.5h0M77.4 567.2h0M86.8 521.6h0M75.9 587.0h0M119.4 591.8h0M64.7 501.4h0M83.2 480.7h0M122.2 486.3h0M125.0 563.6h0M56.7 606.9h0M76.0 544.4h0M140.2 516.6h0M106.6 537.6h0M109.6 603.1h0M132.8 525.0h0M61.9 533.6h0M83.5 518.2h0M98.3 553.5h0M89.4 500.7h0M111.2 609.6h0M125.8 561.4h0M68.6 538.5h0M131.9 541.8h0M129.9 509.0h0M111.1 587.4h0M103.3 554.6h0M128.5 588.1h0M82.9 544.7h0M148.7 581.3h0M140.7 587.5h0M54.4 506.9h0M147.4 609.2h0M101.1 597.0h0M61.2 545.8h0M69.1 509.3h0M64.7 595.4h0M63.5 581.8h0M93.0 520.1h0M53.1 587.7h0M85.8 496.4h0M125.6 585.8h0M164.3 603.9h0M149.0 489.1h0M146.9 537.4h0M101.4 588.1h0M57.4 578.1h0M56.4 492.3h0M56.8 544.5h0M123.6 592.4h0M152.4 595.7h0M54.6 579.6h0M84.8 605.2h0M177.6 606.0h0M54.9 558.8h0M70.1 590.0h0M174.8 575.6h0M137.6 585.2h0M60.8 567.8h0M68.7 591.9h0M82.7 574.3h0M82.5 493.3h0M63.3 607.0h0M80.3 552.8h0M75.0 561.7h0M150.0 568.0h0M58.0 543.7h0M89.7 579.3h0M63.0 488.2h0M123.9 557.9h0M59.4 495.9h0M182.3 595.8h0M193.6 562.4h0M101.0 590.4h0M75.3 497.8h0M72.5 562.6h0M68.7 560.1h0M101.1 577.3h0M126.3 563.9h0M98.3 599.4h0M68.0 555.0h0M128.1 505.3h0M88.8 582.1h0M83.5 503.1h0M115.7 558.6h0M54.6 534.3h0M55.7 598.3h0M76.8 580.6h0M75.5 597.5h0M73.6 538.8h0M150.7 571.9h0M67.2 564.6h0M139.4 550.8h0M114.4 594.1h0M87.8 589.1h0M62.0 506.3h0M66.7 594.5h0M69.3 458.2h0M64.2 460.7h0M146.2 598.8h0M86.8 529.4h0M84.5 610.9h0M91.8 587.2h0M54.4 594.0h0M97.1 554.6h0M73.3 532.2h0M53.8 591.7h0M74.9 517.0h0M62.2 585.2h0M101.8 558.6h0M53.2 480.1h0M78.8 453.2h0M147.4 529.2h0M93.8 599.7h0M70.8 552.3h0M74.6 473.1h0M140.6 598.9h0M98.4 496.8h0M155.5 594.6h0M64.0 578.9h0M115.5 494.5h0M75.2 542.4h0M178.0 602.2h0M134.4 552.4h0M94.2 602.7h0M74.0 568.9h0M73.7 516.0h0M65.8 529.4h0M59.6 529.9h0M70.4 606.2h0M113.4 553.9h0M79.3 608.8h0M109.1 527.9h0M180.0 592.1h0M54.7 593.2h0M132.5 531.7h0M80.6 529.6h0M168.9 602.6h0M66.4 589.5h0M56.7 569.2h0M79.2 463.6h0M103.5 590.8h0M121.0 507.4h0M95.5 570.2h0M111.6 500.2h0M67.0 548.2h0M101.2 554.7h0M80.8 535.7h0M138.9 482.7h0M122.4 562.7h0M60.2 471.0h0M95.2 586.6h0M60.4 579.6h0M65.6 536.4h0M110.7 540.1h0M141.2 602.3h0M158.4 600.0h0M55.7 580.5h0M56.8 521.7h0M74.9 519.7h0M71.3 565.2h0M81.9 486.9h0M59.4 538.8h0M76.1 464.9h0M131.9 589.7h0M63.1 514.7h0M78.8 528.1h0M166.8 608.2h0M98.2 495.0h0M143.8 580.1h0M134.9 501.1h0M57.9 543.2h0M68.8 557.8h0M89.8 531.9h0M59.6 599.9h0M68.8 555.5h0M75.2 593.5h0M146.7 565.1h0M171.3 554.3h0M64.0 538.5h0M64.6 596.9h0M103.5 601.0h0M105.0 514.4h0M83.6 591.7h0M72.0 528.0h0M64.6 486.8h0M81.4 558.4h0M78.4 575.0h0M55.5 578.7h0M137.2 607.3h0M54.1 598.2h0M69.3 557.8h0M176.0 586.1h0M85.5 569.7h0M110.9 551.5h0M69.3 611.2h0M54.7 512.3h0M71.0 599.2h0M89.7 571.4h0M115.7 567.4h0M71.8 588.0h0M106.9 551.2h0M155.4 607.2h0M76.7 475.5h0M83.3 545.9h0M162.0 541.3h0M96.9 587.4h0M68.0 593.0h0M66.3 562.6h0M64.6 535.3h0M102.0 597.5h0M87.9 592.5h0M100.2 600.2h0M70.2 601.5h0M136.4 535.5h0M60.2 599.1h0M66.1 458.1h0M72.2 564.4h0M158.9 564.1h0M75.8 535.1h0M177.4 609.5h0M143.1 598.7h0M57.0 487.3h0M105.5 523.5h0M60.0 575.8h0M80.0 553.7h0M87.7 558.5h0M127.6 523.6h0M66.1 603.1h0M135.4 600.5h0M194.2 600.0h0M59.3 516.0h0M137.7 528.2h0M106.6 576.0h0M178.2 540.8h0M86.5 489.0h0M58.0 606.8h0M116.9 537.2h0M110.2 547.1h0M128.8 581.3h0M102.8 610.8h0M77.6 595.9h0M122.2 608.2h0M147.9 587.5h0M117.0 589.6h0M52.5 609.9h0M83.3 594.6h0M74.0 564.9h0M81.3 529.1h0M62.8 599.4h0M135.0 550.7h0M130.9 540.1h0M53.1 601.0h0M53.5 569.2h0M168.9 568.0h0M160.2 596.1h0M95.8 603.3h0M57.7 540.5h0M101.8 465.2h0M56.8 603.5h0M152.8 587.2h0M55.6 539.1h0M157.9 569.5h0M81.0 571.9h0M134.3 590.4h0M137.6 551.0h0M131.4 599.8h0M184.7 587.2h0M95.7 584.6h0M155.3 574.8h0M81.9 523.0h0M90.0 469.4h0M106.3 533.9h0M57.5 565.6h0M78.0 567.6h0M161.0 502.4h0M106.5 483.0h0M164.2 492.3h0M70.7 591.7h0M68.4 574.9h0M145.7 589.9h0M120.1 553.9h0M144.5 567.8h0M57.3 542.8h0M137.2 494.0h0M73.9 577.5h0M132.5 562.6h0M76.9 586.3h0M80.3 597.3h0M79.8 592.6h0M117.4 529.2h0M62.9 577.9h0M110.8 535.7h0M171.0 533.3h0M118.1 566.3h0M98.7 492.7h0M86.2 597.6h0M172.9 504.9h0M70.3 590.6h0M132.1 521.1h0M97.9 587.2h0M71.5 543.0h0M65.8 523.5h0M152.0 519.1h0M130.6 608.0h0M59.8 512.2h0M66.8 580.7h0M135.8 569.6h0M122.6 528.5h0M60.1 458.7h0M148.9 606.7h0M76.0 560.4h0M59.2 559.5h0M87.2 557.8h0M133.3 558.5h0M78.1 507.4h0M137.0 604.1h0M74.4 575.3h0M131.8 491.6h0M95.2 606.7h0M148.6 577.8h0M62.0 552.1h0M62.7 471.5h0M100.3 608.9h0M74.3 599.1h0M140.4 527.1h0M70.2 592.0h0M61.6 581.9h0M55.7 600.9h0M71.7 551.8h0M88.8 494.3h0M75.0 525.1h0M52.3 530.5h0M83.0 527.7h0M87.6 520.1h0M73.3 554.5h0M115.9 527.8h0M83.5 573.7h0M140.4 607.2h0M102.1 605.9h0M86.1 602.7h0M90.0 513.2h0M153.6 605.0h0M75.5 582.3h0M57.9 465.8h0M197.6 556.8h0M68.1 550.0h0M155.0 589.6h0M151.3 587.7h0M69.1 606.6h0M74.4 571.7h0M83.6 526.3h0M65.9 528.9h0M83.2 556.6h0M102.1 512.4h0M56.8 563.7h0M146.1 571.1h0M130.8 575.3h0M76.4 576.1h0M197.6 587.9h0M195.6 580.0h0M71.0 532.8h0M62.2 493.8h0M147.1 609.1h0M138.9 591.6h0M94.9 549.1h0M141.7 608.4h0M115.3 557.6h0M87.8 498.7h0M139.6 585.0h0M67.3 582.7h0M61.3 595.5h0M72.6 550.6h0M74.0 540.7h0M63.3 549.3h0M104.1 562.5h0M52.4 559.7h0M105.0 499.9h0M91.1 577.9h0M61.5 557.8h0M142.8 595.8h0M110.6 569.8h0M84.6 599.5h0M69.1 493.5h0M52.7 546.4h0M174.9 606.3h0M85.3 554.0h0M112.5 560.6h0M73.5 611.3h0M109.4 580.3h0M162.7 492.9h0M141.1 557.4h0M105.7 526.9h0M82.6 580.6h0M53.7 535.7h0M172.9 575.8h0M55.0 556.9h0M58.6 539.6h0M54.4 488.5h0M80.4 587.6h0M106.1 581.0h0M119.6 583.0h0M58.9 469.2h0M103.1 566.6h0M65.6 495.5h0M94.6 587.7h0M74.7 558.7h0M177.6 597.7h0M99.8 567.2h0M131.7 557.0h0M70.3 542.8h0M160.8 579.1h0M93.0 611.2h0M76.1 588.2h0M76.4 588.8h0M73.3 555.6h0M103.0 600.3h0M66.6 602.6h0M68.2 534.7h0M96.4 565.5h0M69.3 611.4h0M134.7 567.1h0M89.5 556.3h0M166.8 571.8h0M68.7 569.0h0M51.5 596.0h0M75.9 500.9h0M55.3 555.8h0M168.1 595.5h0M71.8 598.6h0M136.0 564.9h0M154.2 530.4h0M87.8 498.8h0M80.6 523.7h0M57.4 551.1h0M127.9 572.9h0M83.8 607.1h0M98.5 537.9h0M122.9 586.9h0M131.9 603.1h0M121.1 509.3h0M108.7 599.0h0M87.7 609.2h0M64.1 490.1h0M106.6 599.2h0M78.4 594.9h0M153.7 610.8h0M79.9 540.8h0M62.7 598.8h0M144.9 603.5h0M61.4 609.2h0M162.8 552.0h0M134.2 608.3h0M64.2 546.7h0M75.3 500.7h0M100.6 593.0h0M116.2 603.7h0M106.1 529.6h0M81.7 606.2h0M135.6 607.4h0M122.4 578.7h0M76.5 588.6h0M148.0 596.7h0M96.7 570.0h0M66.8 569.7h0M69.7 567.5h0M135.7 559.4h0M93.7 541.4h0M90.5 532.9h0M96.6 553.4h0M174.0 586.1h0M132.0 562.0h0M76.1 601.8h0M139.5 578.4h0M88.1 510.4h0M123.2 569.0h0M86.5 542.8h0M90.7 601.6h0M54.0 555.7h0M56.6 582.4h0M142.5 512.8h0M61.3 506.4h0M104.1 609.9h0M98.5 550.7h0M66.3 588.9h0M83.5 601.7h0M59.3 609.7h0M99.3 579.5h0M113.3 547.0h0M58.5 569.0h0M102.1 583.2h0M55.6 541.5h0M190.3 564.6h0M76.7 587.7h0M62.6 601.9h0M144.3 571.6h0M80.5 596.9h0M113.6 572.5h0M79.3 572.5h0M68.1 582.6h0M52.2 597.1h0M125.4 599.8h0M67.8 597.4h0M64.4 531.7h0M59.4 590.9h0M79.7 597.6h0M96.9 601.0h0M111.5 610.2h0M153.7 532.5h0M82.7 599.7h0M96.4 516.6h0M95.3 481.4h0M92.1 572.2h0M72.6 571.6h0M94.7 505.3h0M132.1 527.6h0M164.8 597.2h0M52.4 503.5h0M142.9 516.9h0M96.4 598.0h0M109.7 450.7h0M97.4 577.0h0M84.5 559.9h0M120.4 597.5h0M150.4 589.3h0M66.0 566.9h0M58.2 539.3h0M139.5 489.2h0M54.4 592.0h0M133.4 607.0h0M68.2 506.3h0M105.6 599.0h0M104.7 554.6h0M52.3 597.0h0M83.0 520.0h0M90.9 552.2h0M112.4 532.7h0M103.3 581.2h0M113.5 503.3h0M100.5 524.0h0M71.5 570.9h0M120.3 585.1h0M99.2 602.2h0M66.3 579.7h0M121.7 545.3h0M70.0 520.3h0M57.7 593.5h0M149.3 595.7h0M64.9 568.4h0M79.2 570.4h0M75.8 596.2h0M141.2 534.8h0M158.0 577.1h0M68.1 608.8h0M106.5 605.7h0M100.1 503.2h0M128.4 544.4h0M73.5 537.8h0M132.1 588.2h0M106.7 497.1h0M89.3 586.1h0M87.5 507.9h0M88.6 595.4h0M76.0 508.3h0M143.8 600.0h0M128.4 478.1h0M57.4 574.4h0M54.8 558.3h0M103.8 534.4h0M107.7 573.5h0M145.9 598.3h0M121.7 586.5h0M70.7 562.5h0M70.2 565.0h0M110.7 522.2h0M138.8 568.2h0M169.7 561.7h0M97.9 521.5h0M72.6 569.6h0M59.6 558.3h0M103.5 601.3h0M139.3 569.7h0M87.2 518.1h0M89.5 561.6h0M75.4 565.3h0M124.1 581.0h0M70.8 465.6h0M99.3 519.1h0M115.5 566.0h0M75.0 607.5h0M66.6 464.4h0M155.6 591.3h0M121.3 600.2h0M53.6 462.1h0M85.6 597.1h0M89.8 492.3h0M116.8 547.4h0M147.3 591.9h0M96.5 565.1h0M78.6 540.9h0M78.9 585.1h0M123.8 573.8h0M68.5 557.5h0M98.2 467.3h0M103.7 597.1h0M78.4 598.7h0M84.3 516.2h0M74.6 540.5h0M98.7 561.7h0M55.4 594.6h0M100.5 523.3h0M68.8 587.4h0M86.7 534.0h0M130.6 547.2h0M86.3 551.5h0M68.5 588.1h0M113.5 552.1h0M145.5 570.2h0M150.4 539.9h0M88.5 534.5h0M73.5 597.3h0M112.2 510.6h0M92.1 485.5h0M112.9 550.3h0M122.0 489.9h0M90.6 608.0h0M66.5 606.4h0M129.4 532.3h0M88.4 580.6h0M80.4 531.1h0M70.1 480.2h0M79.9 609.8h0M84.5 588.8h0M75.3 580.6h0M71.1 502.5h0M79.7 532.9h0M69.3 581.5h0M154.0 606.3h0M104.8 580.4h0M78.0 598.5h0M52.5 570.0h0M60.3 535.1h0M108.9 556.6h0M139.6 509.5h0M72.6 507.0h0M88.7 568.6h0M84.7 611.2h0M59.5 599.9h0M65.1 510.8h0M64.7 544.5h0M119.3 590.4h0M177.4 552.6h0M178.1 576.4h0M103.4 459.8h0M55.3 490.7h0M87.5 598.6h0M130.3 561.6h0M130.9 584.0h0M55.4 522.1h0M129.5 608.5h0M70.1 500.8h0M122.5 600.1h0M105.1 610.9h0M152.3 595.6h0M105.6 546.2h0M173.1 563.9h0M68.6 593.1h0M78.1 604.9h0M53.8 530.4h0M172.7 601.6h0M63.0 513.4h0M133.9 506.6h0M90.6 517.8h0M121.7 544.6h0M56.4 530.2h0M79.8 563.6h0M55.4 508.6h0M139.8 578.9h0M197.1 552.0h0M57.3 590.8h0M100.5 598.0h0M86.3 588.6h0M119.8 585.0h0M66.0 478.5h0M164.5 563.5h0M57.1 577.3h0M131.8 591.4h0M64.8 523.1h0M70.7 536.5h0M77.6 594.7h0M156.5 514.7h0M100.3 573.9h0M146.1 562.2h0M58.0 564.7h0M61.4 605.6h0M53.8 468.8h0M72.9 565.2h0M131.4 595.9h0M60.3 533.9h0M126.5 583.8h0M153.8 557.7h0M181.4 585.7h0M64.2 607.9h0M96.0 509.1h0M56.2 520.3h0M58.5 603.4h0M112.3 574.7h0M152.8 529.5h0M53.5 595.8h0M65.6 573.6h0M159.8 498.2h0M61.5 501.4h0M105.5 500.1h0M65.4 556.6h0M94.1 581.8h0M70.1 488.9h0M53.3 533.5h0M84.2 603.0h0M69.3 576.7h0M72.7 606.5h0M160.2 548.9h0M129.2 478.3h0M57.7 563.0h0M74.9 605.7h0M155.3 518.2h0M89.0 594.6h0M78.8 567.8h0M90.3 542.2h0M89.2 540.6h0M133.6 544.0h0M58.2 516.2h0M113.4 562.9h0M188.5 600.6h0M152.5 593.1h0M112.0 602.3h0M153.4 549.1h0M108.1 594.4h0M58.5 541.8h0M89.4 565.1h0M72.1 604.0h0M78.4 610.5h0M83.0 536.4h0M123.5 543.4h0M87.0 516.3h0M84.9 593.9h0M93.0 462.6h0M97.7 594.4h0M111.3 589.7h0M129.8 495.1h0M57.3 536.1h0M130.6 574.9h0M122.0 554.8h0M114.7 573.7h0M110.9 524.7h0M104.8 570.1h0M93.7 582.4h0M165.6 589.6h0M107.8 504.0h0M80.8 514.9h0M164.1 574.3h0M102.0 467.5h0M88.5 590.9h0M94.7 574.4h0M106.5 533.1h0M72.6 547.4h0M90.2 536.0h0M83.9 471.6h0M91.8 586.7h0M159.5 493.4h0M97.0 512.1h0M122.7 574.5h0M120.8 568.9h0M65.8 540.9h0M74.6 585.2h0M141.1 566.5h0M87.7 604.9h0M68.6 597.1h0M91.8 556.4h0M131.8 607.1h0M84.2 537.7h0M96.2 586.1h0M59.8 469.5h0M191.2 580.9h0M90.2 598.8h0M87.7 558.0h0M77.6 598.6h0M195.5 586.7h0M110.7 469.5h0M119.6 599.6h0M184.8 563.3h0M66.2 568.4h0M80.6 594.3h0M167.4 597.1h0M185.1 584.5h0M74.4 596.5h0M122.4 552.5h0M112.2 602.7h0M91.6 530.6h0M59.0 529.2h0M183.0 567.3h0M136.1 562.5h0M83.8 559.7h0M61.6 605.8h0M124.3 583.3h0M142.6 583.8h0M138.3 577.2h0M96.0 518.4h0M64.9 496.3h0M173.2 594.6h0M122.7 577.2h0M109.5 608.5h0M98.7 544.3h0M104.3 520.3h0M100.8 553.0h0M124.8 527.4h0M106.9 592.4h0M58.3 605.7h0M54.4 533.4h0M71.0 456.1h0M76.6 498.8h0M112.5 606.3h0M57.2 560.5h0M93.6 587.7h0M114.2 472.6h0M103.9 605.0h0M96.9 551.6h0M112.2 498.2h0M54.0 495.5h0M106.0 468.3h0M54.4 549.4h0M136.8 490.1h0M94.1 548.9h0M116.6 565.6h0M57.9 560.6h0M111.0 521.9h0M54.9 586.2h0M75.0 544.9h0M140.9 599.1h0M80.4 596.8h0M68.7 464.3h0M97.6 587.1h0M76.6 589.8h0M52.8 600.7h0M64.3 583.0h0M142.9 596.7h0M145.7 594.1h0M72.1 531.6h0M124.7 565.7h0M179.5 586.3h0M54.0 502.1h0M121.5 581.6h0M94.4 556.8h0M55.2 556.3h0M105.9 530.2h0M75.4 562.1h0M59.7 480.9h0M68.1 581.5h0M79.7 588.1h0M55.6 522.9h0M160.5 576.4h0M67.5 550.2h0M55.7 499.1h0M52.3 534.8h0M67.2 597.7h0M99.4 610.6h0M74.5 558.3h0M56.4 523.6h0M56.0 599.5h0M81.8 582.9h0M81.3 567.9h0M81.4 581.0h0M172.8 544.8h0M101.8 596.3h0M80.2 552.7h0M68.5 593.1h0M108.5 595.5h0M90.9 580.9h0M72.7 602.7h0M126.8 562.0h0M85.6 567.9h0M108.7 583.9h0M53.3 538.1h0M83.6 558.2h0M87.0 487.4h0M135.5 591.1h0M164.8 563.3h0M56.6 551.4h0M55.8 558.1h0M179.8 549.0h0M86.3 556.7h0M79.8 478.0h0M57.8 466.7h0M77.5 542.2h0M120.2 563.0h0M62.7 524.7h0M111.6 604.4h0M169.9 526.5h0M54.7 537.4h0M142.3 582.9h0M68.2 586.2h0M109.1 596.4h0M120.2 519.3h0M84.9 601.1h0M199.8 606.9h0M113.5 498.8h0M69.5 523.7h0M129.2 513.7h0M190.8 598.8h0M197.1 584.6h0M189.3 580.2h0M96.9 539.3h0M94.3 594.6h0M72.7 586.8h0M128.2 582.3h0M112.8 562.1h0M86.3 603.0h0M163.9 596.2h0M140.4 532.2h0M149.0 595.0h0M150.6 568.9h0M92.4 532.3h0M83.2 522.8h0M104.7 600.3h0M88.6 591.4h0M52.9 456.8h0M119.2 606.6h0M113.2 608.8h0M51.8 532.4h0M127.6 586.8h0M61.8 500.8h0M74.7 499.9h0M81.9 529.9h0M80.5 583.9h0M59.5 535.7h0M153.7 610.8h0M91.4 463.1h0M65.0 567.3h0M57.5 608.4h0M67.5 581.1h0M132.7 515.0h0M91.1 553.5h0M71.7 602.1h0M69.1 586.7h0M59.4 562.0h0M85.7 585.6h0M102.7 539.6h0M136.9 611.5h0M81.1 484.1h0M144.0 569.0h0M171.0 555.2h0M59.4 510.3h0M139.2 542.8h0M91.4 589.4h0M64.4 539.0h0M65.3 601.0h0M151.6 588.2h0M83.7 519.6h0M143.1 588.7h0M71.1 558.9h0M109.0 558.3h0M55.0 504.2h0M106.3 594.5h0M184.7 575.2h0M166.4 571.9h0M66.3 603.4h0M65.6 598.8h0M96.3 470.1h0M120.4 558.2h0M101.9 610.1h0M94.8 538.9h0M60.0 553.2h0M71.5 543.1h0M67.2 592.5h0M94.1 544.2h0M56.4 563.8h0M146.1 571.0h0M113.7 602.8h0M63.2 583.7h0M61.9 555.9h0M95.9 609.1h0M75.6 609.0h0M93.0 569.4h0M98.4 525.6h0M84.2 607.5h0M103.3 529.6h0M53.4 608.2h0M136.0 547.7h0M153.5 599.0h0M116.3 593.0h0M82.2 494.6h0M99.4 577.4h0M53.7 560.6h0M110.4 570.1h0M71.8 576.7h0M83.9 572.5h0M69.5 528.4h0M99.8 586.4h0M111.3 605.9h0M89.8 505.6h0M88.4 571.8h0M95.8 542.9h0M139.8 551.6h0M56.3 542.7h0M127.8 552.5h0M82.4 561.7h0M123.9 572.8h0M85.6 557.3h0M172.6 589.0h0M54.1 576.1h0M68.2 496.6h0M90.1 591.9h0M77.2 577.8h0M79.5 527.9h0M57.6 503.2h0M100.2 568.6h0M141.5 605.1h0M135.8 583.9h0M78.4 542.3h0M54.0 607.5h0M74.3 495.7h0M101.3 541.6h0M62.2 572.1h0M119.6 606.9h0M93.3 547.9h0M148.9 509.8h0M54.2 507.7h0M78.4 582.6h0M106.0 509.8h0M104.4 589.7h0M155.3 585.8h0M122.3 581.9h0M114.6 553.8h0M80.2 542.1h0M69.0 578.3h0M98.5 560.2h0M132.6 602.1h0M96.3 608.3h0M84.9 558.5h0M74.9 573.3h0M62.2 471.7h0M72.9 563.2h0M89.5 546.7h0M67.3 600.5h0M87.3 596.2h0M126.6 601.1h0M108.3 568.9h0M69.7 472.1h0M59.3 590.8h0M97.5 519.2h0M81.5 610.5h0M63.9 604.9h0M152.1 587.1h0M147.5 469.0h0M98.4 562.2h0M140.2 487.2h0M107.9 508.5h0M75.6 544.9h0M107.6 578.3h0M66.7 553.4h0M110.7 520.8h0M99.2 609.9h0M121.8 581.1h0M88.4 560.3h0M100.8 610.4h0M99.6 521.3h0M195.0 550.3h0M137.6 609.3h0M113.1 540.4h0M160.7 598.3h0M125.1 565.6h0M105.9 598.1h0M82.6 586.9h0M76.8 490.3h0M56.6 545.4h0M97.8 502.7h0M60.6 572.7h0M57.2 568.3h0M52.7 500.8h0M76.9 504.1h0M90.9 575.1h0M73.3 598.5h0M85.7 510.9h0M70.0 593.4h0M60.5 556.2h0M188.3 567.1h0M53.5 468.7h0M82.2 552.6h0M144.4 550.6h0M67.0 590.3h0M125.3 546.1h0M72.2 601.2h0M165.6 596.4h0M90.4 566.4h0M85.5 570.4h0M107.2 542.5h0M92.7 553.0h0M125.5 571.9h0M122.8 520.4h0M128.2 484.5h0M65.1 571.6h0M74.5 534.5h0M73.8 507.9h0M74.9 531.2h0M78.6 571.4h0M108.1 557.3h0M123.0 541.4h0M116.1 593.4h0M113.4 600.8h0M65.1 606.3h0M61.1 468.7h0M142.6 610.8h0M72.6 528.0h0M131.8 600.6h0M68.9 573.1h0M114.3 582.6h0M70.1 569.8h0M113.3 562.1h0M65.6 517.2h0M72.6 585.4h0M56.3 538.0h0M123.2 568.6h0M66.0 595.5h0M102.5 554.8h0M105.1 582.8h0M108.6 575.6h0M102.3 547.1h0M89.5 518.1h0M144.6 560.1h0M79.4 552.0h0M67.9 585.4h0M93.3 581.8h0M63.3 597.8h0M91.2 597.2h0M73.6 462.0h0M56.8 553.2h0M143.7 601.1h0M64.2 587.7h0M69.6 516.6h0M129.8 458.2h0M69.1 572.2h0M105.8 537.7h0M73.2 538.8h0M60.4 516.9h0M64.1 465.9h0M56.2 547.9h0M60.0 592.4h0M91.9 561.9h0M123.5 581.6h0M91.6 561.0h0M117.6 592.5h0M68.1 586.9h0M69.6 580.3h0M91.2 500.6h0M100.8 507.8h0M54.7 589.0h0M79.5 534.9h0M116.0 584.6h0M58.2 593.3h0M86.5 539.6h0M179.8 608.1h0M76.1 526.9h0M68.5 475.2h0M93.0 574.1h0M85.0 450.4h0M111.1 607.8h0M74.9 596.6h0M125.9 501.4h0M171.9 603.5h0M79.2 560.3h0M75.3 611.2h0M129.5 589.9h0M147.0 555.1h0M106.3 493.5h0M90.6 565.4h0M85.6 501.0h0M103.6 537.3h0M170.5 600.5h0M53.6 599.9h0M78.4 534.8h0M130.6 463.0h0M79.6 522.1h0M52.8 588.6h0M85.3 566.0h0M134.4 578.0h0M83.7 568.1h0M52.8 564.4h0M95.1 606.4h0M97.0 462.5h0M102.2 602.3h0M83.4 571.1h0M88.4 611.2h0M60.8 447.1h0M83.5 557.5h0M94.8 512.9h0M80.6 611.3h0M68.6 601.4h0M119.1 559.8h0M95.0 580.3h0M61.2 573.1h0M110.8 589.9h0M112.3 560.1h0M172.7 592.6h0M136.6 558.1h0M62.1 558.5h0M105.4 502.6h0M168.7 549.4h0M148.9 577.4h0M120.0 598.8h0M71.8 513.7h0M78.6 460.5h0M111.4 610.2h0M107.5 607.5h0M55.6 539.9h0M69.9 607.6h0M141.2 591.3h0M137.9 561.9h0M51.6 535.1h0M97.0 569.0h0M73.2 535.1h0M90.4 567.2h0M63.6 567.9h0M104.6 599.1h0M109.5 562.9h0M112.9 564.0h0M97.2 546.3h0M120.4 588.9h0M80.3 549.5h0M55.0 601.4h0M55.7 597.6h0M142.2 571.6h0M163.3 538.8h0M90.9 496.7h0M95.3 589.0h0M91.9 585.4h0M111.5 597.0h0M105.1 604.2h0M117.0 575.9h0M152.3 602.6h0M81.9 586.4h0M167.2 566.0h0M150.5 599.8h0M91.3 527.7h0M133.3 553.2h0M114.5 481.1h0M71.9 514.0h0M89.2 610.5h0M75.8 565.0h0M67.8 591.9h0M166.9 589.5h0M54.8 529.1h0M147.3 521.8h0M69.6 563.5h0M116.7 578.9h0M66.9 496.3h0M128.6 599.4h0M105.8 569.0h0M129.6 588.0h0M72.7 611.0h0M66.4 603.2h0M91.6 574.0h0M82.5 505.4h0M157.9 576.3h0M118.1 489.3h0M73.6 533.3h0M53.4 606.5h0M62.7 495.8h0M118.3 556.2h0M81.5 582.5h0M152.2 472.4h0M141.3 576.4h0M108.3 606.9h0M66.0 468.7h0M155.9 585.6h0M86.5 581.8h0M73.3 568.2h0M76.6 562.3h0M135.4 494.3h0M125.5 559.2h0M57.8 494.1h0M78.1 587.5h0M57.7 553.1h0M186.4 603.0h0M94.6 510.4h0M83.6 598.1h0M106.5 607.1h0M65.9 590.7h0M56.5 610.6h0M69.3 566.4h0M138.3 542.5h0M90.3 538.2h0M64.3 491.6h0M60.6 531.0h0M118.3 579.6h0M59.4 597.7h0M85.9 607.9h0M141.7 581.2h0M63.6 589.7h0M94.7 578.9h0M70.8 543.0h0M175.9 607.2h0M57.3 516.7h0M76.2 585.5h0M148.3 551.2h0M102.5 556.4h0M106.5 602.0h0M103.7 556.8h0M150.5 588.2h0M146.6 574.1h0M113.7 549.7h0M77.7 508.3h0M90.7 583.6h0M75.1 592.1h0M152.8 601.5h0M56.8 535.0h0M108.1 605.9h0M83.7 512.1h0M79.8 603.3h0M119.8 552.5h0M120.8 585.7h0M167.4 611.0h0M105.6 597.5h0M122.9 607.5h0M58.4 586.8h0M55.5 468.0h0M119.6 584.6h0M64.4 594.6h0M110.2 538.9h0M142.1 528.1h0M74.4 558.0h0M180.4 606.2h0M175.9 586.9h0M54.6 521.9h0M53.9 532.8h0M126.5 588.6h0M100.8 560.5h0M92.2 577.6h0M98.2 577.0h0M89.0 538.7h0M57.2 592.4h0M126.0 545.2h0M133.0 512.4h0M80.1 485.1h0M169.2 564.8h0M55.2 498.9h0M122.8 582.2h0M92.3 562.5h0M59.7 511.9h0M65.0 584.1h0M97.2 598.4h0M146.4 516.2h0M56.6 590.1h0M58.1 610.5h0M142.5 580.6h0M53.0 588.2h0M74.6 512.3h0M156.7 508.2h0M100.3 562.9h0M101.5 530.8h0M117.4 594.3h0M66.8 526.5h0M177.3 579.3h0M140.0 601.2h0M72.5 603.8h0M96.4 506.2h0M57.7 584.6h0M68.1 578.7h0M65.5 529.7h0M92.2 605.2h0M103.6 541.7h0M145.4 533.4h0M58.0 459.0h0M83.9 532.7h0M110.9 555.2h0M76.7 526.7h0M56.4 553.1h0M122.2 520.8h0M128.1 541.5h0M117.4 605.7h0M141.7 567.1h0M192.9 596.5h0M56.0 563.8h0M99.7 527.1h0M144.2 571.5h0M165.8 568.0h0M118.3 606.1h0M97.3 539.0h0M104.9 538.7h0M106.8 488.2h0M93.3 577.9h0M52.2 548.9h0M134.4 536.7h0M56.7 458.6h0M121.0 554.4h0M81.6 487.7h0M68.6 507.4h0M134.0 601.3h0M133.2 572.1h0M56.6 557.4h0M111.2 580.7h0M65.6 550.5h0M135.1 507.8h0M95.5 562.8h0M84.1 566.6h0M197.6 591.9h0M100.8 538.6h0M105.3 609.8h0M73.9 525.3h0M168.8 577.0h0M114.8 547.1h0M121.2 574.6h0M79.0 491.0h0M70.4 530.4h0M69.5 522.7h0M89.4 458.5h0M89.2 533.1h0M54.6 567.1h0M131.7 567.6h0M60.1 503.5h0M106.2 602.8h0M92.3 520.1h0M83.3 481.7h0M183.1 574.4h0M131.7 584.4h0M101.5 577.8h0M51.8 596.1h0M67.6 546.2h0M70.8 556.5h0M79.2 605.7h0M55.9 532.0h0M128.3 559.5h0M73.8 525.3h0M68.6 516.8h0M66.4 574.6h0M70.0 503.5h0M103.3 511.0h0M95.4 596.3h0M58.7 583.7h0M82.9 482.5h0M114.6 573.5h0M70.2 583.7h0M76.1 550.1h0M51.8 556.1h0M167.2 589.5h0M97.5 583.3h0M129.4 598.4h0M51.8 609.3h0M61.1 586.1h0M84.8 524.4h0M84.8 531.5h0M108.7 584.1h0M74.0 532.6h0M98.9 596.6h0M160.5 464.1h0M183.8 558.2h0M195.2 561.7h0M59.8 576.5h0M55.0 601.1h0M64.0 513.0h0M93.1 589.8h0M170.7 582.1h0M108.4 527.2h0M109.5 569.5h0M112.5 605.0h0M53.6 591.6h0M114.6 607.3h0M111.8 543.3h0M104.3 597.2h0M82.2 597.2h0M124.2 531.7h0M177.3 609.0h0M141.2 571.0h0M72.0 548.4h0M146.3 577.4h0M93.1 568.1h0M73.3 592.4h0M153.2 545.7h0M108.9 542.4h0M112.9 587.1h0M96.1 546.8h0M57.3 579.2h0M82.8 589.9h0M109.3 533.3h0M60.4 562.0h0M65.6 499.9h0M98.7 592.7h0M80.1 537.4h0M87.1 551.7h0M78.6 546.3h0M99.8 492.7h0M59.6 584.2h0M176.0 593.7h0M107.5 557.9h0M58.9 495.6h0M134.0 544.4h0M100.8 556.9h0M128.0 568.9h0M59.1 533.6h0M76.6 563.1h0M92.4 563.1h0M56.6 583.0h0M90.8 582.5h0M106.5 575.9h0M106.5 519.0h0M58.9 514.7h0M77.9 570.3h0M165.8 594.1h0M62.7 607.5h0M116.3 581.6h0M78.5 609.0h0M57.4 492.2h0M77.7 563.5h0M137.2 604.7h0M104.1 583.4h0M94.0 541.3h0M101.3 596.7h0M92.1 548.9h0M99.3 595.7h0M57.2 549.0h0M130.7 578.2h0M127.0 549.8h0M112.6 515.7h0M95.7 600.8h0M76.3 551.8h0M84.3 501.7h0M51.7 590.1h0M88.1 609.8h0M53.5 568.4h0M61.8 598.2h0M81.7 554.1h0M89.4 574.1h0M122.1 590.8h0M82.0 525.0h0M125.7 490.4h0M54.1 578.3h0M98.7 508.4h0M87.7 556.3h0M92.6 558.3h0M103.1 558.7h0M143.3 601.9h0M131.6 595.3h0M58.6 488.5h0M74.8 529.8h0M93.5 596.9h0M82.3 587.5h0M90.9 560.0h0M66.1 604.0h0M96.8 602.6h0M72.1 570.7h0M66.8 594.0h0M77.1 544.2h0M97.4 529.9h0M86.4 579.8h0M73.9 590.6h0M123.4 567.5h0M85.6 546.9h0M70.0 597.4h0M149.6 583.4h0M143.7 602.1h0M175.5 574.7h0M98.5 597.0h0M161.7 590.2h0M140.2 526.0h0M76.5 609.3h0M156.2 539.9h0M91.8 575.8h0M64.0 579.6h0M150.7 578.0h0M66.9 607.8h0M52.5 511.1h0M115.5 571.9h0M69.5 560.2h0M96.1 558.1h0M62.7 601.9h0M138.9 594.9h0M79.9 564.9h0M85.8 603.3h0M66.5 472.3h0M110.1 605.9h0M70.5 593.3h0M165.1 596.5h0M118.2 500.8h0M167.8 605.3h0M168.2 545.1h0M102.3 539.8h0M89.4 555.4h0M55.8 525.6h0M71.3 594.7h0M110.7 538.8h0M62.7 554.4h0M65.6 585.8h0M160.5 609.6h0M105.3 580.0h0M57.4 493.7h0M153.3 602.5h0M77.4 472.0h0M52.1 541.9h0M91.2 483.4h0M51.5 603.9h0M75.2 567.3h0M110.9 588.5h0M78.6 586.5h0M75.3 572.5h0M188.4 607.9h0M130.2 605.1h0M74.2 581.0h0M57.8 492.5h0M63.5 596.5h0M192.6 582.9h0M69.1 574.7h0M67.0 592.2h0M95.9 596.3h0M161.0 611.5h0M55.9 597.5h0M114.4 557.9h0M144.1 533.3h0M63.7 584.1h0M112.9 510.5h0M64.1 507.5h0M176.0 584.9h0M57.2 475.7h0M196.6 561.9h0M55.3 543.9h0M109.4 477.5h0M52.0 446.2h0M105.9 594.5h0M139.5 608.6h0M88.5 557.1h0M154.8 527.5h0M52.4 578.0h0M68.0 552.8h0M57.9 525.1h0M73.0 523.2h0M86.3 541.9h0M112.5 587.1h0M93.6 557.3h0M148.9 609.7h0M53.9 542.3h0M55.9 582.6h0M72.2 567.3h0M71.3 540.8h0M105.2 577.0h0M78.4 601.7h0M64.1 506.1h0M79.7 592.0h0M104.2 577.4h0M66.6 521.0h0M64.5 467.3h0M165.4 555.2h0M139.1 560.0h0M131.6 605.9h0M131.1 517.7h0M137.5 556.7h0M57.4 568.0h0M94.3 604.9h0M52.4 553.1h0M116.0 603.5h0M55.7 554.8h0M63.7 485.7h0M149.5 554.7h0M98.2 577.5h0M72.8 488.0h0M75.0 481.6h0M72.2 544.7h0M53.2 591.5h0M53.8 559.8h0M60.4 464.2h0M65.4 594.3h0M63.6 518.7h0M184.3 566.5h0M138.4 511.6h0M140.8 534.1h0M156.1 599.7h0M78.5 558.7h0M52.7 463.0h0M141.3 588.0h0M151.7 558.5h0M87.2 551.7h0M55.1 555.6h0M88.0 575.8h0M114.0 564.4h0M67.2 605.4h0M126.1 568.3h0M70.2 597.8h0M73.1 552.4h0M111.2 494.5h0M60.1 604.3h0M52.9 475.4h0M116.1 597.6h0M97.0 599.8h0M84.0 526.7h0M91.0 607.0h0M146.3 574.6h0M55.8 607.8h0M103.9 591.3h0M111.0 576.4h0M53.4 500.2h0M76.4 583.6h0M62.0 548.0h0M181.7 606.7h0M79.0 570.7h0M142.7 520.6h0M72.8 568.3h0M67.5 529.7h0M95.3 610.5h0M88.4 521.3h0M145.5 610.3h0M158.9 521.7h0M57.7 606.3h0M66.8 578.1h0M132.4 610.1h0M130.6 480.1h0M186.8 580.6h0M118.7 567.0h0M91.9 609.5h0M71.1 601.3h0M86.9 457.9h0M87.6 609.8h0M76.7 589.6h0M123.9 585.4h0M130.6 599.8h0M102.0 514.4h0M154.6 595.2h0M95.9 511.0h0M64.4 535.0h0M87.9 607.7h0M207.9 535.7h0M211.3 538.8h0M201.8 537.4h0M217.4 546.9h0M215.3 552.1h0M218.0 555.7h0M221.4 553.7h0M224.1 554.4h0M206.5 554.4h0M210.6 555.7h0M206.5 559.1h0M200.4 561.1h0M200.4 563.8h0M207.9 564.5h0M215.3 564.5h0M218.4 565.9h0M201.8 569.9h0M223.5 572.6h0M205.2 577.4h0M216.7 577.6h0M218.4 578.4h0M222.1 581.4h0M227.5 580.1h0M233.6 576.0h0M235.0 579.4h0M237.7 583.5h0M210.6 585.2h0M220.1 586.8h0M226.8 588.2h0M229.5 588.5h0M232.2 588.9h0M240.4 588.5h0M203.2 588.9h0M205.2 589.5h0M207.2 590.2h0M206.5 591.6h0M230.9 596.3h0M235.0 596.7h0M206.5 597.3h0M210.6 598.3h0M213.3 598.7h0M216.7 599.0h0M220.1 599.0h0M226.2 599.0h0M232.2 600.4h0M203.8 603.1h0M207.9 603.7h0M210.6 604.4h0M218.0 605.1h0M225.5 603.7h0M225.5 606.5h0M223.5 608.5h0M228.2 608.9h0M235.6 605.8h0M239.0 608.2h0M215.3 611.6h0M201.1 607.8h0M203.8 608.5h0M205.9 609.8h0M203.2 611.2h0M54.4 425.9h0M51.1 428.6h0M53.1 430.4h0M57.8 431.3h0M60.5 430.4h0M61.2 434.0h0M56.5 434.9h0M59.9 438.1h0M74.7 433.3h0M78.8 433.3h0M84.9 433.3h0M51.7 441.7h0M55.1 440.3h0M61.9 442.8h0M68.0 441.4h0M80.8 441.4h0M76.1 443.5h0M57.1 444.4h0M51.7 446.6h0M81.5 444.4h0M84.2 444.4h0M86.2 440.8h0M63.9 447.8h0M73.4 448.9h0M54.4 447.8h0M99.1 449.3h0M182.3 495.4h0M189.0 495.4h0M184.3 502.2h0M188.3 502.2h0M191.1 505.6h0M182.3 514.4h0M186.3 521.8h0M182.9 524.1h0M187.0 527.2h0M183.6 530.4h0M189.7 532.0h0M194.4 532.0h0M201.9 537.4h0M195.1 538.7h0M198.5 540.8h0M201.2 543.5h0M183.6 543.9h0M195.8 545.5h0M316.8 592.6h0M316.8 596.9h0M312.8 603.0h0M53.8 313.1h0M121.4 356.2h0M91.0 366.3h0M51.1 374.4h0M124.8 373.8h0M84.2 391.4h0M111.7 392.7h0M55.1 398.1h0M63.2 397.4h0M101.6 408.3h0M101.6 411.0h0M102.5 415.7h0M138.8 413.7h0M154.6 411.7h0M53.8 412.8h0M56.5 415.7h0M60.5 417.1h0M75.4 419.8h0M66.6 421.8h0M69.3 425.9h0M91.7 422.5h0M82.9 425.2h0M79.5 427.2h0M135.6 423.2h0M97.1 429.9h0M106.5 432.6h0M109.9 435.3h0M119.4 435.3h0M121.4 438.1h0M162.5 432.0h0M167.5 432.6h0M131.4 442.8h0M140.2 442.8h0M197.8 418.3h0M201.2 454.8h0M197.1 458.4h0M211.4 464.3h0M249.9 475.1h0M221.5 488.7h0M215.4 493.4h0M221.5 496.1h0M246.5 493.4h0M297.3 502.9h0M215.4 510.3h0M203.9 517.1h0M215.4 518.4h0M217.4 519.1h0M245.2 517.1h0M254.0 521.1h0M228.3 522.5h0M205.9 526.6h0M252.0 532.6h0M208.0 536.0h0M211.4 538.7h0M217.4 546.9h0M283.1 542.1h0M248.4 555.4h0M248.4 558.6h0M255.8 560.8h0M258.9 560.8h0M261.2 567.1h0M285.6 567.1h0M257.8 574.5h0M246.4 577.8h0M281.8 585.5h0M265.4 587.7h0M277.5 589.5h0M249.7 590.2h0M316.8 592.6h0M316.8 596.9h0M297.9 596.2h0M312.5 603.0h0M288.5 603.6h0M283.4 604.3h0M259.4 603.6h0M233.8 560.4h0M231.6 562.6h0M402.7 567.1h0M347.1 581.9h0M377.6 590.2h0"/>
<path stroke="#ff0000" d="M67.3 606.2h0M65.1 596.7h0M70.2 597.5h0M65.0 608.6h0M58.2 566.0h0M56.3 609.2h0M108.9 601.1h0M69.7 591.3h0M60.2 554.5h0M58.5 555.4h0M133.6 602.7h0M61.4 605.4h0M104.8 593.7h0M71.4 607.5h0M88.7 581.9h0M93.4 604.4h0M136.0 602.0h0M129.0 574.6h0M88.6 576.3h0M66.5 578.4h0M68.8 558.7h0M96.9 586.1h0M74.2 605.5h0M59.3 591.8h0M60.8 607.8h0M129.7 554.5h0M112.3 587.5h0M67.5 609.4h0M91.0 609.1h0M68.7 561.5h0M68.7 565.5h0M110.7 599.2h0M62.9 591.5h0M78.6 567.6h0M58.0 586.1h0M130.1 590.3h0M130.6 607.8h0M53.8 580.4h0M136.6 583.8h0M118.6 589.9h0M95.9 583.4h0M91.4 596.3h0M88.5 594.7h0M110.3 586.0h0M105.4 591.2h0M52.5 595.1h0M120.6 574.4h0M70.9 602.8h0M62.7 610.8h0M55.6 580.1h0M111.3 560.7h0M87.1 569.8h0M87.8 559.7h0M82.1 604.2h0M55.4 591.4h0M91.1 591.7h0M112.4 588.2h0M134.0 608.8h0M75.6 578.2h0M131.8 608.6h0M123.3 559.0h0M64.5 551.6h0M63.9 569.6h0M65.8 583.3h0M120.3 563.7h0M121.1 582.0h0M90.0 552.8h0M86.8 608.7h0M122.6 580.0h0M70.9 600.3h0M58.0 557.8h0M112.9 558.6h0M76.9 577.7h0M74.8 600.5h0M95.5 560.1h0M109.0 587.5h0M89.6 610.8h0M83.6 599.9h0M57.2 571.3h0M105.6 596.8h0M106.2 609.9h0M106.0 550.5h0M86.1 592.6h0M59.4 552.5h0M55.0 561.2h0M76.8 595.9h0M95.1 556.6h0M118.8 556.6h0M73.5 597.4h0M126.8 562.1h0M73.6 575.7h0M100.4 574.9h0M89.2 591.3h0M135.6 560.0h0M74.4 587.5h0M56.6 592.1h0M66.7 565.3h0M68.0 580.7h0M81.9 583.7h0M75.8 606.5h0M85.4 611.1h0M74.4 602.6h0M77.6 603.6h0M74.9 610.3h0M63.8 557.5h0M65.8 582.6h0M62.9 600.7h0M88.3 599.3h0M123.4 598.0h0M137.6 582.9h0M55.4 611.5h0M55.6 586.7h0M55.1 578.8h0M70.5 575.4h0M110.5 576.1h0M66.2 601.9h0M52.8 581.5h0M123.8 593.4h0M58.5 566.9h0M67.3 609.6h0M106.1 574.1h0M56.4 605.4h0M92.2 600.0h0M80.3 571.5h0M91.8 574.1h0M99.5 599.0h0M106.4 606.1h0M55.0 580.5h0M100.8 554.1h0M134.1 593.6h0M112.1 609.3h0M56.1 567.8h0M60.1 607.4h0M130.1 580.4h0M59.7 603.0h0M89.7 602.8h0M71.1 571.5h0M80.7 601.2h0M91.1 561.9h0M56.5 604.2h0M67.0 610.6h0M56.4 589.9h0M87.9 599.3h0M132.3 578.4h0M68.8 562.4h0M91.2 552.5h0M57.1 602.9h0M53.1 572.2h0M103.2 603.4h0M73.3 574.4h0M100.7 552.3h0M59.1 565.0h0M99.0 585.9h0M81.6 569.5h0M59.1 586.5h0M91.1 599.7h0M58.5 558.8h0M78.7 594.4h0M90.1 586.1h0M109.9 593.1h0M128.5 604.6h0M99.2 567.0h0M88.9 589.4h0M88.7 592.0h0M64.3 572.7h0M63.1 591.4h0M69.5 560.4h0M79.1 591.2h0M55.2 610.7h0M63.6 607.6h0M82.2 584.2h0M65.3 592.9h0M56.1 604.4h0M116.3 566.3h0M69.9 610.9h0M62.2 593.4h0M98.6 601.7h0M106.7 579.4h0M107.9 599.0h0M78.4 604.3h0M79.7 601.7h0M69.1 573.2h0M71.3 604.3h0M74.5 587.9h0M107.4 584.8h0M51.8 599.2h0M78.1 561.3h0M123.2 579.3h0M102.7 574.3h0M52.9 606.4h0M61.9 573.6h0M54.5 611.2h0M70.3 588.6h0M64.7 600.1h0M94.9 578.5h0M135.7 583.1h0M72.3 608.0h0M74.5 608.2h0M57.5 556.6h0M68.1 552.5h0M55.2 611.1h0M117.0 585.8h0M60.1 602.9h0M91.7 591.5h0M90.0 583.8h0M114.1 610.4h0M138.8 590.9h0M101.7 591.6h0M57.7 600.7h0M78.0 583.2h0M109.3 609.3h0M129.3 568.8h0M121.5 599.7h0M135.6 569.9h0M133.2 606.6h0M73.8 592.9h0M57.4 610.0h0M100.2 597.5h0M98.3 592.7h0M77.7 552.9h0M87.6 561.6h0M83.2 555.7h0M125.8 605.2h0M78.6 606.9h0M62.5 582.7h0M55.0 587.4h0M130.1 586.4h0M99.1 556.1h0M139.4 567.4h0M66.5 585.9h0M130.0 569.4h0M119.5 576.6h0M69.4 603.6h0M61.5 554.5h0M56.2 596.7h0M87.9 610.2h0M120.7 586.6h0M106.2 601.1h0M122.6 553.3h0M117.9 583.4h0M92.2 611.0h0M109.6 608.8h0M96.4 590.6h0M88.3 578.3h0M90.3 608.5h0M57.7 585.4h0M59.8 576.8h0M92.6 611.1h0M59.4 570.0h0M78.0 581.0h0M63.1 554.1h0M106.9 573.0h0M84.1 605.3h0M53.0 606.8h0M64.0 609.0h0M91.0 605.6h0M81.5 601.9h0M81.5 578.0h0M62.0 580.4h0M88.7 605.2h0M62.3 561.8h0M84.5 598.0h0M55.9 588.1h0M114.5 599.7h0M64.4 571.8h0M73.9 610.2h0M83.0 582.1h0M84.2 606.6h0M71.7 590.6h0M91.4 604.5h0M62.2 603.8h0M54.7 599.9h0M99.2 603.1h0M55.7 595.4h0M96.5 609.0h0M79.0 608.3h0M62.4 606.8h0M81.1 610.4h0M51.6 607.8h0M58.4 607.4h0M90.9 602.9h0M96.9 598.7h0M100.5 605.0h0M56.8 602.3h0M54.1 605.1h0M59.4 599.8h0M77.5 586.8h0M55.2 606.1h0M58.1 603.3h0M58.1 593.6h0M66.6 597.4h0M55.9 605.7h0M62.2 602.4h0M63.9 604.0h0M81.3 610.0h0M64.8 599.7h0M54.0 609.9h0M71.6 589.3h0M70.3 610.4h0M54.0 604.4h0M63.1 607.8h0M60.5 606.1h0M59.9 593.1h0M83.2 603.4h0M55.7 609.6h0M55.2 610.4h0M98.9 606.8h0M60.2 607.1h0M54.7 607.6h0M85.1 603.2h0M60.0 453.2h0M53.2 471.4h0M57.4 487.9h0M60.0 489.1h0M66.0 488.8h0M90.9 492.6h0M100.3 501.5h0M55.0 505.6h0M66.0 506.1h0M62.5 512.2h0M66.4 512.7h0M65.1 517.7h0M65.1 519.3h0M148.6 516.9h0M148.3 527.1h0M107.8 530.4h0M136.9 536.7h0M60.7 534.5h0M84.3 535.5h0M87.6 536.4h0M77.2 532.6h0M116.5 540.3h0M63.1 539.2h0M60.7 540.5h0M79.2 543.8h0M111.6 546.3h0M122.1 545.3h0M120.5 546.6h0M88.8 545.0h0M69.4 547.4h0M56.5 547.4h0M73.1 548.3h0M92.9 548.3h0M83.8 548.3h0M176.8 483.8h0M153.2 515.2h0M140.8 556.1h0M149.0 570.4h0M153.5 570.4h0M154.8 574.0h0M156.4 573.4h0M151.2 588.2h0M154.5 590.5h0M180.0 597.4h0M159.7 598.7h0M145.8 598.7h0M141.3 601.7h0M142.5 603.7h0M80.2 391.4h0M88.3 437.4h0M190.4 543.9h0M233.4 551.6h0M192.3 575.2h0M185.6 585.9h0M192.3 598.9h0M223.9 595.6h0M237.6 590.9h0M250.4 608.3h0M368.8 590.2h0"/>
<path stroke="#0000ff" d="M90.4 589.6h0M64.6 608.5h0M52.1 609.3h0M56.1 610.3h0M60.9 606.5h0M67.2 599.4h0M51.7 572.2h0M77.0 606.9h0M75.3 609.2h0M57.6 609.8h0M64.3 601.6h0M99.6 602.0h0M75.6 587.5h0M61.5 589.0h0M66.1 583.8h0M52.0 610.5h0M109.9 604.8h0M57.6 607.3h0M63.4 601.7h0M63.6 603.7h0M64.1 583.0h0M55.2 597.4h0M54.6 592.8h0M53.3 592.5h0M61.9 587.6h0M54.9 610.8h0M57.0 596.2h0M83.0 611.2h0M53.3 607.6h0M55.3 609.5h0M79.2 607.7h0M54.6 580.6h0M73.8 607.4h0M73.6 603.7h0M70.7 600.1h0M54.5 603.0h0M76.5 608.8h0M54.3 610.7h0M55.4 600.9h0M80.6 606.0h0M55.7 596.7h0M56.2 605.2h0M56.7 610.1h0M66.4 606.6h0M57.4 605.2h0M82.0 611.2h0M57.6 605.2h0M61.8 609.9h0M57.6 604.1h0M52.0 592.2h0M100.8 608.6h0M55.4 599.4h0M91.6 599.5h0M53.2 598.9h0M68.2 603.5h0M81.9 602.8h0M65.1 597.2h0M57.4 601.7h0M55.5 611.0h0M52.7 586.4h0M129.7 585.9h0M115.0 582.9h0M85.5 585.4h0M54.4 564.4h0M116.7 589.3h0M51.6 590.1h0M123.7 568.4h0M95.7 578.2h0M126.4 581.3h0M87.3 556.2h0M129.4 574.4h0M57.3 576.4h0M98.3 556.4h0M110.1 574.0h0M61.9 557.2h0M134.1 566.3h0M60.1 553.2h0M66.4 592.6h0M69.1 587.0h0M111.0 581.7h0M77.4 467.6h0M90.9 472.2h0M118.5 475.5h0M53.7 479.7h0M76.7 491.6h0M126.6 503.3h0M63.1 507.3h0M72.6 509.4h0M57.9 519.8h0M113.2 520.5h0M51.2 527.1h0M70.6 524.6h0M57.4 530.4h0M94.2 528.4h0M100.3 530.1h0M103.6 529.3h0M76.0 531.7h0M52.4 544.1h0M58.2 544.1h0M59.0 546.3h0M82.6 545.3h0M92.6 543.6h0M90.9 544.5h0M100.3 547.4h0M161.3 488.7h0M159.2 591.5h0M166.8 599.5h0M145.8 596.7h0M140.0 597.0h0M167.5 608.3h0M195.7 609.0h0M283.4 607.7h0"/>
</g>
<g font-family="'DejaVu Sans', 'Liberation Sans', sans-serif" font-size="13.7">
<text x="377.5" y="564.4" fill="#bebebe" textLength="53.6" lengthAdjust="spacingAndGlyphs">ATP5C1</text>
<text x="367.2" y="586.1" fill="#bebebe" textLength="33.9" lengthAdjust="spacingAndGlyphs">TAF3</text>
<text x="339" y="609.7" fill="#ff0000" textLength="62.7" lengthAdjust="spacingAndGlyphs">NPBWR1</text>
<text x="263.6" y="622.7" fill="#0000ff" textLength="35.2" lengthAdjust="spacingAndGlyphs">POLI</text>
</g>
<path d="M32.5 631V220.7H447" fill="none" stroke="#333" stroke-width="1.1"/>
<path d="M446.9 220.2V630.2" stroke="#222" stroke-width="1.7"/>
<path d="M32 629.45H447.75" stroke="#111" stroke-width="1.5"/>
<path d="M51.50 629.6V632.5M29.6 611.50H32.5M177.10 629.6V632.5M29.6 487.10H32.5M302.70 629.6V632.5M29.6 362.70H32.5M428.30 629.6V632.5M29.6 238.30H32.5" stroke="#333" stroke-width="1.1" fill="none"/>
<g font-family="'Liberation Sans', Arial, sans-serif" font-size="10.5" fill="#3a3a3a">
<text x="51.1" y="644.7" text-anchor="middle">0</text>
<text x="27.2" y="616.1" text-anchor="end">0</text>
<text x="176.7" y="644.7" text-anchor="middle">2</text>
<text x="27.2" y="491.7" text-anchor="end">2</text>
<text x="302.3" y="644.7" text-anchor="middle">4</text>
<text x="27.2" y="367.3" text-anchor="end">4</text>
<text x="427.9" y="644.7" text-anchor="middle">6</text>
<text x="27.2" y="242.9" text-anchor="end">6</text>
</g>
<g font-family="'Liberation Sans', Arial, sans-serif" fill="#1a1a1a">
<text x="239.4" y="657.7" font-size="10.4" text-anchor="middle">Low TLR -log(p)</text>
<text transform="translate(15.6 425.2) rotate(-90)" font-size="10.7" text-anchor="middle">High TLR -log(p)</text>
</g>
</svg>
</body></html>
